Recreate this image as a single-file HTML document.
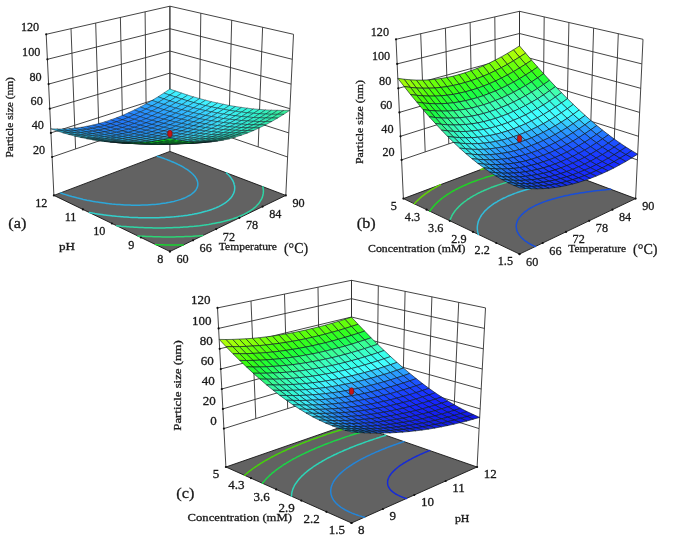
<!DOCTYPE html>
<html><head><meta charset="utf-8"><title>Response surface plots</title>
<style>
html,body{margin:0;padding:0;background:#fff;}
body{width:685px;height:544px;overflow:hidden;}
svg{display:block;}
text{font-family:"Liberation Serif","Times New Roman",serif;fill:#1a1a1a;stroke:#1a1a1a;stroke-width:0.3px;}
</style></head><body>
<svg width="685" height="544" viewBox="0 0 685 544">
<rect width="685" height="544" fill="#fff"/>
<polygon points="169.9,251.5 285.8,195.4 169.9,151.4 53.9,195.4" fill="#626262" stroke="#151515" stroke-width="0.9"/>
<polyline points="157.2,156.2 158.8,156.7 160.3,157.2 161.9,157.8 163.4,158.3 164.9,158.9 166.4,159.4 167.9,160.0 169.3,160.5 170.7,161.1 172.1,161.7 173.5,162.3 174.9,162.9 176.2,163.5 177.5,164.1 178.8,164.8 180.1,165.4 180.5,165.6 181.3,166.0 182.5,166.7 183.7,167.4 184.8,168.1 186.0,168.8 186.5,169.1 187.0,169.5 188.1,170.2 189.1,171.0 190.0,171.7 190.1,171.7 191.0,172.5 191.9,173.3 192.4,173.8 192.8,174.1 193.6,175.0 194.2,175.7 194.4,175.8 195.1,176.7 195.5,177.4 195.7,177.7 196.3,178.6 196.5,178.9 196.8,179.6 197.1,180.4 197.2,180.6 197.5,181.7 197.6,181.8 197.7,182.8 197.8,183.1 197.8,183.9 197.8,184.3 197.8,185.2 197.7,185.5 197.5,186.5 197.5,186.6 197.1,187.6 197.0,187.9 196.6,188.7 196.1,189.5 196.1,189.7 195.4,190.6 194.7,191.4 194.6,191.5 193.7,192.4 192.7,193.2 191.9,193.8 191.7,194.0 190.6,194.8 189.4,195.5 188.1,196.2 186.8,196.9 185.4,197.6 183.9,198.2 182.4,198.8 180.8,199.4 179.1,199.9 177.4,200.4 175.8,200.8 175.6,200.9 173.8,201.4 171.9,201.8 169.9,202.2 169.6,202.3 167.9,202.6 165.9,203.0 164.7,203.2 163.8,203.3 161.6,203.6 160.3,203.8 159.4,203.9 157.1,204.2 156.4,204.3 154.7,204.4 152.6,204.6 152.4,204.6 149.9,204.8 149.1,204.8 147.4,204.9 145.7,205.0 144.8,205.1 142.5,205.1 142.2,205.1 139.5,205.2 139.3,205.2 136.7,205.2 136.3,205.2 133.9,205.2 133.3,205.2 131.0,205.2 130.4,205.1 128.1,205.1 127.6,205.1 125.0,204.9 124.9,204.9 122.2,204.8 121.9,204.8 119.5,204.6 118.6,204.6 116.9,204.4 115.3,204.3 114.4,204.2 111.9,204.0 111.9,204.0 109.4,203.7 108.3,203.6 107.0,203.4 104.6,203.1 104.6,203.1 102.3,202.8 100.8,202.6 100.0,202.5 97.7,202.1 96.8,202.0 95.5,201.8 93.3,201.4 92.5,201.3 91.1,201.0 89.0,200.6 88.0,200.4 86.9,200.2 84.8,199.7 83.2,199.4 82.8,199.3 80.8,198.8 78.8,198.3 77.8,198.1 76.8,197.8 74.9,197.3 73.0,196.8 71.8,196.5 71.1,196.3 69.3,195.8 67.5,195.2 65.7,194.6 64.5,194.3 63.9,194.1 62.2,193.5 60.5,192.9" fill="none" stroke="#2da7d9" stroke-width="1.5" stroke-linecap="round"/>
<polyline points="226.4,172.9 227.2,173.7 228.1,174.5 228.4,174.8 228.9,175.3 229.6,176.2 230.0,176.6 230.3,177.0 231.0,177.9 231.3,178.3 231.6,178.8 232.2,179.8 232.3,179.8 232.8,180.7 233.1,181.3 233.3,181.7 233.7,182.7 233.7,182.8 234.0,183.8 234.1,184.2 234.3,184.9 234.5,185.5 234.5,186.0 234.6,186.8 234.7,187.2 234.7,188.0 234.7,188.4 234.6,189.2 234.6,189.6 234.5,190.4 234.4,191.0 234.2,191.5 234.0,192.4 233.9,192.6 233.5,193.7 233.4,193.9 232.9,194.7 232.5,195.5 232.4,195.7 231.7,196.7 231.2,197.4 231.0,197.7 230.1,198.6 229.3,199.5 229.3,199.5 228.3,200.4 227.3,201.2 226.3,202.1 225.9,202.3 225.2,202.9 224.0,203.7 222.8,204.4 221.5,205.2 220.1,205.9 218.7,206.6 217.3,207.2 215.8,207.9 214.2,208.5 212.6,209.1 211.0,209.7 209.3,210.3 207.6,210.8 207.4,210.9 205.8,211.3 203.9,211.8 202.1,212.3 200.7,212.7 200.2,212.8 198.2,213.2 196.2,213.7 195.4,213.8 194.1,214.1 192.0,214.5 190.6,214.7 189.9,214.8 187.7,215.2 186.3,215.4 185.5,215.5 183.3,215.8 182.3,215.9 181.0,216.1 178.6,216.3 178.4,216.4 176.3,216.6 174.7,216.7 173.8,216.8 171.4,217.0 171.2,217.0 168.9,217.2 167.8,217.3 166.3,217.3 164.4,217.4 163.8,217.5 161.2,217.6 161.1,217.6 158.5,217.7 158.0,217.7 155.8,217.8 154.9,217.8 153.0,217.8 151.9,217.8 150.2,217.8 148.9,217.8 147.4,217.8 145.9,217.8 144.5,217.8 143.1,217.8 141.5,217.8 140.2,217.7 138.6,217.7 137.4,217.6 135.5,217.6 134.7,217.5 132.4,217.4 131.9,217.4 129.3,217.3 129.3,217.3 126.6,217.1 126.1,217.1 124.0,216.9 122.8,216.8 121.4,216.7 119.4,216.5 118.9,216.5 116.4,216.3 116.0,216.2 113.9,216.0 112.5,215.9 111.4,215.7 109.0,215.5 108.9,215.5 106.6,215.2 105.2,215.0 104.2,214.9 101.9,214.5 101.4,214.5 99.6,214.2 97.5,213.9 97.3,213.9 95.0,213.5 93.5,213.2 92.8,213.1 90.6,212.7 89.3,212.5" fill="none" stroke="#32d0cb" stroke-width="1.5" stroke-linecap="round"/>
<polyline points="262.9,186.7 263.0,187.6 263.1,188.0 263.2,188.8 263.3,189.3 263.3,189.9 263.4,190.6 263.4,191.2 263.4,191.8 263.3,192.4 263.3,193.0 263.2,193.7 263.1,194.2 262.9,195.1 262.9,195.3 262.5,196.5 262.5,196.5 262.2,197.6 261.9,198.1 261.7,198.6 261.2,199.7 261.2,199.7 260.6,200.7 260.1,201.4 260.0,201.7 259.3,202.7 258.7,203.4 258.5,203.7 257.7,204.6 256.8,205.6 256.8,205.6 255.9,206.5 254.9,207.4 253.9,208.2 253.6,208.4 252.8,209.1 251.6,209.9 250.4,210.7 249.2,211.5 247.9,212.2 246.6,213.0 245.2,213.7 243.8,214.4 242.3,215.1 240.8,215.8 239.2,216.4 237.6,217.1 236.0,217.7 234.3,218.3 232.5,218.9 230.8,219.4 230.6,219.5 229.0,220.0 227.1,220.5 225.2,221.0 224.1,221.3 223.3,221.5 221.3,221.9 219.3,222.4 218.8,222.5 217.2,222.8 215.1,223.2 214.0,223.5 213.0,223.6 210.9,224.0 209.6,224.2 208.7,224.4 206.4,224.7 205.5,224.9 204.2,225.1 201.9,225.4 201.5,225.4 199.5,225.7 197.8,225.9 197.2,225.9 194.8,226.2 194.1,226.3 192.3,226.4 190.6,226.6 189.9,226.6 187.4,226.9 187.1,226.9 184.8,227.0 183.7,227.1 182.3,227.2 180.4,227.3 179.7,227.4 177.2,227.5 177.0,227.5 174.4,227.6 174.0,227.6 171.7,227.7 170.9,227.7 168.9,227.8 167.8,227.8 166.2,227.8 164.8,227.9 163.4,227.9 161.8,227.9 160.5,227.9 158.9,227.9 157.7,227.9 156.0,227.9 154.8,227.9 153.1,227.9 151.8,227.8 150.2,227.8 148.8,227.8 147.4,227.7 145.8,227.7 144.7,227.7 142.8,227.6 141.9,227.6 139.7,227.5 139.2,227.4 136.6,227.3 136.5,227.3 133.8,227.2 133.4,227.1 131.2,227.0 130.1,226.9 128.6,226.8 126.9,226.7 126.0,226.6 123.5,226.4 123.4,226.4 120.9,226.2 120.2,226.1 118.4,226.0 116.7,225.8" fill="none" stroke="#2ed5a4" stroke-width="1.5" stroke-linecap="round"/>
<polyline points="202.7,235.6 201.0,235.7 199.4,235.8 198.4,235.9 196.1,236.1 195.8,236.1 193.2,236.2 192.9,236.3 190.5,236.4 189.7,236.4 187.8,236.5 186.6,236.5 185.1,236.6 183.5,236.7 182.3,236.7 180.5,236.7 179.6,236.8 177.5,236.8 176.8,236.8 174.5,236.9 173.9,236.9 171.5,236.9 171.1,236.9 168.6,236.9 168.2,236.9 165.7,236.9 165.3,236.9 162.8,236.9 162.4,236.9 160.0,236.8 159.4,236.8 157.2,236.8 156.4,236.8 154.4,236.7 153.4,236.7 151.6,236.6 150.3,236.6 148.9,236.5 147.2,236.5 146.2,236.4 144.1,236.3 143.5,236.3 141.0,236.2 140.8,236.2 138.1,236.0 137.8,236.0" fill="none" stroke="#2cd575" stroke-width="1.5" stroke-linecap="round"/>
<polyline points="183.4,245.0 182.4,245.0 180.5,245.0 179.5,245.0 177.6,245.0 176.6,245.0 174.7,245.0 173.7,245.0 171.9,245.0 170.7,245.0 169.0,244.9 167.7,244.9 166.2,244.9 164.7,244.9 163.4,244.8 161.7,244.8 160.7,244.8 158.7,244.7 157.9,244.7 155.6,244.6" fill="none" stroke="#18d330" stroke-width="1.5" stroke-linecap="round"/>
<path d="M46.2,34.3L52.1,157.0 M71.0,28.7L75.6,148.9 M95.7,23.1L99.2,140.8 M120.4,17.4L122.7,132.7 M145.1,11.8L146.3,124.7 M169.9,6.2L169.9,116.6 M293.5,34.3L287.6,157.0 M262.6,27.3L258.2,146.9 M231.7,20.2L228.7,136.8 M200.8,13.2L199.3,126.7 M169.9,6.2L169.9,116.6 M52.1,157.0L169.9,116.6 M169.9,116.6L287.6,157.0 M50.9,132.9L169.9,94.9 M169.9,94.9L288.8,132.9 M49.8,108.7L169.9,73.1 M169.9,73.1L289.9,108.7 M48.6,84.1L169.9,51.0 M169.9,51.0L291.1,84.1 M47.4,59.3L169.9,28.7 M169.9,28.7L292.3,59.3 M46.2,34.3L169.9,6.2 M169.9,6.2L293.5,34.3 M52.1,157.0L53.9,195.4 M287.6,157.0L285.8,195.4 M169.9,116.6L169.9,151.4" fill="none" stroke="#303030" stroke-width="0.9"/>
<g stroke="#0c1820" stroke-width="0.45" stroke-linejoin="round">
<path d="M169.9 95.1L175.8 91.1L169.9 89.0L163.9 93.0z" fill="#41f3ff"/>
<path d="M163.9 98.9L169.9 95.1L163.9 93.0L158.0 96.8z" fill="#3adaff"/>
<path d="M175.8 97.1L181.8 93.1L175.8 91.1L169.9 95.1z" fill="#40f0ff"/>
<path d="M158.0 102.5L163.9 98.9L158.0 96.8L152.0 100.4z" fill="#34c4ff"/>
<path d="M181.8 99.0L187.7 95.1L181.8 93.1L175.8 97.1z" fill="#40eeff"/>
<path d="M169.9 100.9L175.8 97.1L169.9 95.1L163.9 98.9z" fill="#3ad8ff"/>
<path d="M152.0 105.9L158.0 102.5L152.0 100.4L146.1 103.8z" fill="#30b1ff"/>
<path d="M163.9 104.4L169.9 100.9L163.9 98.9L158.0 102.5z" fill="#34c2ff"/>
<path d="M175.8 102.7L181.8 99.0L175.8 97.1L169.9 100.9z" fill="#39d7ff"/>
<path d="M187.7 100.8L193.7 96.9L187.7 95.1L181.8 99.0z" fill="#3fedff"/>
<path d="M169.9 106.3L175.8 102.7L169.9 100.9L163.9 104.4z" fill="#34c2ff"/>
<path d="M146.1 109.1L152.0 105.9L146.1 103.8L140.2 107.0z" fill="#2ca1ff"/>
<path d="M158.0 107.8L163.9 104.4L158.0 102.5L152.0 105.9z" fill="#2fb0ff"/>
<path d="M181.8 104.5L187.7 100.8L181.8 99.0L175.8 102.7z" fill="#39d6ff"/>
<path d="M193.7 102.5L199.7 98.6L193.7 96.9L187.7 100.8z" fill="#40eeff"/>
<path d="M140.2 112.0L146.1 109.1L140.2 107.0L134.2 110.0z" fill="#2994ff"/>
<path d="M163.9 109.7L169.9 106.3L163.9 104.4L158.0 107.8z" fill="#2fb0ff"/>
<path d="M175.8 108.1L181.8 104.5L175.8 102.7L169.9 106.3z" fill="#34c2ff"/>
<path d="M199.6 104.1L205.6 100.2L199.7 98.6L193.7 102.5z" fill="#40efff"/>
<path d="M152.0 111.0L158.0 107.8L152.0 105.9L146.1 109.1z" fill="#2ca1ff"/>
<path d="M187.7 106.2L193.7 102.5L187.7 100.8L181.8 104.5z" fill="#3ad7ff"/>
<path d="M134.2 114.8L140.2 112.0L134.2 110.0L128.3 112.8z" fill="#2789ff"/>
<path d="M146.1 114.0L152.0 111.0L146.1 109.1L140.2 112.0z" fill="#2994ff"/>
<path d="M158.0 112.8L163.9 109.7L158.0 107.8L152.0 111.0z" fill="#2ca1ff"/>
<path d="M169.9 111.4L175.8 108.1L169.9 106.3L163.9 109.7z" fill="#2fb1ff"/>
<path d="M181.8 109.7L187.7 106.2L181.8 104.5L175.8 108.1z" fill="#34c4ff"/>
<path d="M193.7 107.8L199.6 104.1L193.7 102.5L187.7 106.2z" fill="#3adaff"/>
<path d="M205.6 105.6L211.6 101.7L205.6 100.2L199.6 104.1z" fill="#41f2ff"/>
<path d="M128.3 117.4L134.2 114.8L128.3 112.8L122.4 115.4z" fill="#2581fd"/>
<path d="M152.0 115.8L158.0 112.8L152.0 111.0L146.1 114.0z" fill="#2995fe"/>
<path d="M187.7 111.3L193.7 107.8L187.7 106.2L181.8 109.7z" fill="#35c6ff"/>
<path d="M211.6 106.9L217.6 103.0L211.6 101.7L205.6 105.6z" fill="#40f4ff"/>
<path d="M140.2 116.7L146.1 114.0L140.2 112.0L134.2 114.8z" fill="#278afe"/>
<path d="M163.9 114.6L169.9 111.4L163.9 109.7L158.0 112.8z" fill="#2ca3ff"/>
<path d="M175.8 113.1L181.8 109.7L175.8 108.1L169.9 111.4z" fill="#30b3ff"/>
<path d="M199.6 109.3L205.6 105.6L199.6 104.1L193.7 107.8z" fill="#3bddff"/>
<path d="M122.4 119.8L128.3 117.4L122.4 115.4L116.5 117.8z" fill="#237afa"/>
<path d="M134.3 119.3L140.2 116.7L134.2 114.8L128.3 117.4z" fill="#2582fb"/>
<path d="M146.1 118.6L152.0 115.8L146.1 114.0L140.2 116.7z" fill="#278bfc"/>
<path d="M158.0 117.5L163.9 114.6L158.0 112.8L152.0 115.8z" fill="#2a97fd"/>
<path d="M181.7 114.6L187.7 111.3L181.8 109.7L175.8 113.1z" fill="#31b6ff"/>
<path d="M193.7 112.8L199.6 109.3L193.7 107.8L187.7 111.3z" fill="#36caff"/>
<path d="M205.6 110.6L211.6 106.9L205.6 105.6L199.6 109.3z" fill="#3ce1ff"/>
<path d="M217.5 108.2L223.5 104.3L217.6 103.0L211.6 106.9z" fill="#3ff3fd"/>
<path d="M169.9 116.2L175.8 113.1L169.9 111.4L163.9 114.6z" fill="#2da5fe"/>
<path d="M140.2 121.1L146.1 118.6L140.2 116.7L134.3 119.3z" fill="#2583fa"/>
<path d="M199.6 114.1L205.6 110.6L199.6 109.3L193.7 112.8z" fill="#37cfff"/>
<path d="M116.5 121.9L122.4 119.8L116.5 117.8L110.5 119.9z" fill="#2276f8"/>
<path d="M128.3 121.7L134.3 119.3L128.3 117.4L122.4 119.8z" fill="#237cf9"/>
<path d="M152.0 120.3L158.0 117.5L152.0 115.8L146.1 118.6z" fill="#278efb"/>
<path d="M163.9 119.2L169.9 116.2L163.9 114.6L158.0 117.5z" fill="#2a9afc"/>
<path d="M175.8 117.8L181.7 114.6L175.8 113.1L169.9 116.2z" fill="#2da8fc"/>
<path d="M187.7 116.1L193.7 112.8L187.7 111.3L181.7 114.6z" fill="#32bafd"/>
<path d="M211.6 111.9L217.5 108.2L211.6 106.9L205.6 110.6z" fill="#3ee6ff"/>
<path d="M223.5 109.3L229.5 105.5L223.5 104.3L217.5 108.2z" fill="#3df3f7"/>
<path d="M134.3 123.5L140.2 121.1L134.3 119.3L128.3 121.7z" fill="#247ef7"/>
<path d="M146.1 122.8L152.0 120.3L146.1 118.6L140.2 121.1z" fill="#2686f8"/>
<path d="M169.9 120.7L175.8 117.8L169.9 116.2L163.9 119.2z" fill="#2b9dfa"/>
<path d="M193.7 117.4L199.6 114.1L193.7 112.8L187.7 116.1z" fill="#33bffc"/>
<path d="M205.6 115.4L211.6 111.9L205.6 110.6L199.6 114.1z" fill="#39d4fe"/>
<path d="M110.5 123.9L116.5 121.9L110.5 119.9L104.6 121.9z" fill="#2274f5"/>
<path d="M229.5 110.4L235.5 106.5L229.5 105.5L223.5 109.3z" fill="#3bf3f0"/>
<path d="M122.4 123.8L128.3 121.7L122.4 119.8L116.5 121.9z" fill="#2278f6"/>
<path d="M158.0 121.9L163.9 119.2L158.0 117.5L152.0 120.3z" fill="#2891f9"/>
<path d="M181.7 119.2L187.7 116.1L181.7 114.6L175.8 117.8z" fill="#2eacfb"/>
<path d="M217.5 113.0L223.5 109.3L217.5 108.2L211.6 111.9z" fill="#3fedff"/>
<path d="M104.6 125.6L110.5 123.9L104.6 121.9L98.7 123.6z" fill="#2174f3"/>
<path d="M128.3 125.6L134.3 123.5L128.3 121.7L122.4 123.8z" fill="#237af5"/>
<path d="M140.2 125.2L146.1 122.8L140.2 121.1L134.3 123.5z" fill="#2481f6"/>
<path d="M152.0 124.4L158.0 121.9L152.0 120.3L146.1 122.8z" fill="#268af7"/>
<path d="M163.9 123.4L169.9 120.7L163.9 119.2L158.0 121.9z" fill="#2995f8"/>
<path d="M175.8 122.1L181.7 119.2L175.8 117.8L169.9 120.7z" fill="#2ca2f9"/>
<path d="M187.7 120.5L193.7 117.4L187.7 116.1L181.7 119.2z" fill="#30b2fa"/>
<path d="M199.6 118.7L205.6 115.4L199.6 114.1L193.7 117.4z" fill="#35c5fb"/>
<path d="M211.5 116.5L217.5 113.0L211.6 111.9L205.6 115.4z" fill="#3bdbfc"/>
<path d="M235.5 111.3L241.5 107.4L235.5 106.5L229.5 110.4z" fill="#39f3e9"/>
<path d="M116.5 125.7L122.4 123.8L116.5 121.9L110.5 123.9z" fill="#2276f4"/>
<path d="M223.5 114.1L229.5 110.4L223.5 109.3L217.5 113.0z" fill="#3eeef9"/>
<path d="M158.0 125.9L163.9 123.4L158.0 121.9L152.0 124.4z" fill="#278ef5"/>
<path d="M181.7 123.4L187.7 120.5L181.7 119.2L175.8 122.1z" fill="#2da7f7"/>
<path d="M98.7 127.1L104.6 125.6L98.7 123.6L92.7 125.1z" fill="#2276f0"/>
<path d="M122.4 127.5L128.3 125.6L122.4 123.8L116.5 125.7z" fill="#2279f2"/>
<path d="M217.5 117.5L223.5 114.1L217.5 113.0L211.5 116.5z" fill="#3de3fb"/>
<path d="M241.5 112.1L247.5 108.2L241.5 107.4L235.5 111.3z" fill="#36f4e1"/>
<path d="M110.5 127.4L116.5 125.7L110.5 123.9L104.6 125.6z" fill="#2276f1"/>
<path d="M134.2 127.3L140.2 125.2L134.3 123.5L128.3 125.6z" fill="#247ef3"/>
<path d="M146.1 126.7L152.0 124.4L146.1 122.8L140.2 125.2z" fill="#2585f4"/>
<path d="M169.9 124.8L175.8 122.1L169.9 120.7L163.9 123.4z" fill="#2a9af6"/>
<path d="M193.7 121.8L199.6 118.7L193.7 117.4L187.7 120.5z" fill="#31b8f8"/>
<path d="M205.6 119.8L211.5 116.5L205.6 115.4L199.6 118.7z" fill="#37ccfa"/>
<path d="M229.5 115.0L235.5 111.3L229.5 110.4L223.5 114.1z" fill="#3ceff2"/>
<path d="M92.7 128.3L98.7 127.1L92.7 125.1L86.8 126.3z" fill="#2279ed"/>
<path d="M116.4 129.2L122.4 127.5L116.5 125.7L110.5 127.4z" fill="#2279f0"/>
<path d="M152.0 128.2L158.0 125.9L152.0 124.4L146.1 126.7z" fill="#2689f3"/>
<path d="M163.9 127.3L169.9 124.8L163.9 123.4L158.0 125.9z" fill="#2893f4"/>
<path d="M175.8 126.1L181.7 123.4L175.8 122.1L169.9 124.8z" fill="#2b9ff5"/>
<path d="M187.7 124.6L193.7 121.8L187.7 120.5L181.7 123.4z" fill="#2eaef6"/>
<path d="M223.5 118.5L229.5 115.0L223.5 114.1L217.5 117.5z" fill="#3eeaf9"/>
<path d="M247.5 112.8L253.5 108.9L247.5 108.2L241.5 112.1z" fill="#34f4d8"/>
<path d="M104.6 128.9L110.5 127.4L104.6 125.6L98.7 127.1z" fill="#2278ee"/>
<path d="M128.3 129.2L134.2 127.3L128.3 125.6L122.4 127.5z" fill="#237cf1"/>
<path d="M211.5 120.8L217.5 117.5L211.5 116.5L205.6 119.8z" fill="#39d4f9"/>
<path d="M235.5 115.8L241.5 112.1L235.5 111.3L229.5 115.0z" fill="#39efea"/>
<path d="M140.2 128.8L146.1 126.7L140.2 125.2L134.2 127.3z" fill="#2482f2"/>
<path d="M199.6 122.9L205.6 119.8L199.6 118.7L193.7 121.8z" fill="#33c0f7"/>
<path d="M169.9 128.6L175.8 126.1L169.9 124.8L163.9 127.3z" fill="#2a99f2"/>
<path d="M110.5 130.7L116.4 129.2L110.5 127.4L104.6 128.9z" fill="#237bed"/>
<path d="M229.5 119.3L235.5 115.8L229.5 115.0L223.5 118.5z" fill="#3cebf1"/>
<path d="M86.7 129.3L92.7 128.3L86.8 126.3L80.8 127.4z" fill="#247feb"/>
<path d="M98.6 130.2L104.6 128.9L98.7 127.1L92.7 128.3z" fill="#237cec"/>
<path d="M122.4 130.9L128.3 129.2L122.4 127.5L116.4 129.2z" fill="#237dee"/>
<path d="M146.1 130.3L152.0 128.2L146.1 126.7L140.2 128.8z" fill="#2687f0"/>
<path d="M158.0 129.6L163.9 127.3L158.0 125.9L152.0 128.2z" fill="#278ff1"/>
<path d="M181.7 127.3L187.7 124.6L181.7 123.4L175.8 126.1z" fill="#2da6f3"/>
<path d="M193.7 125.7L199.6 122.9L193.7 121.8L187.7 124.6z" fill="#30b5f4"/>
<path d="M217.5 121.7L223.5 118.5L217.5 117.5L211.5 120.8z" fill="#3bddf7"/>
<path d="M241.5 116.5L247.5 112.8L241.5 112.1L235.5 115.8z" fill="#37f0e1"/>
<path d="M253.5 113.3L259.6 109.4L253.5 108.9L247.5 112.8z" fill="#33f4cf"/>
<path d="M134.2 130.7L140.2 128.8L134.2 127.3L128.3 129.2z" fill="#2481ef"/>
<path d="M205.6 123.9L211.5 120.8L205.6 119.8L199.6 122.9z" fill="#35c8f6"/>
<path d="M104.5 131.9L110.5 130.7L104.6 128.9L98.6 130.2z" fill="#247fea"/>
<path d="M163.9 130.9L169.9 128.6L163.9 127.3L158.0 129.6z" fill="#2995f0"/>
<path d="M175.8 129.8L181.7 127.3L175.8 126.1L169.9 128.6z" fill="#2ba0f1"/>
<path d="M235.5 119.9L241.5 116.5L235.5 115.8L229.5 119.3z" fill="#39ebe8"/>
<path d="M80.8 130.1L86.7 129.3L80.8 127.4L74.8 128.1z" fill="#2586e8"/>
<path d="M116.4 132.3L122.4 130.9L116.4 129.2L110.5 130.7z" fill="#247feb"/>
<path d="M140.2 132.2L146.1 130.3L140.2 128.8L134.2 130.7z" fill="#2586ee"/>
<path d="M199.6 126.7L205.6 123.9L199.6 122.9L193.7 125.7z" fill="#33bef3"/>
<path d="M223.5 122.5L229.5 119.3L223.5 118.5L217.5 121.7z" fill="#3de6f6"/>
<path d="M259.6 113.8L265.6 109.9L259.6 109.4L253.5 113.3z" fill="#33f2c6"/>
<path d="M92.7 131.2L98.6 130.2L92.7 128.3L86.7 129.3z" fill="#2482e9"/>
<path d="M128.3 132.4L134.2 130.7L128.3 129.2L122.4 130.9z" fill="#2482ed"/>
<path d="M152.0 131.7L158.0 129.6L152.0 128.2L146.1 130.3z" fill="#278def"/>
<path d="M187.7 128.4L193.7 125.7L187.7 124.6L181.7 127.3z" fill="#2eadf2"/>
<path d="M211.5 124.8L217.5 121.7L211.5 120.8L205.6 123.9z" fill="#38d1f5"/>
<path d="M247.5 117.0L253.5 113.3L247.5 112.8L241.5 116.5z" fill="#34f0d7"/>
<path d="M74.8 130.7L80.8 130.1L74.8 128.1L68.8 128.7z" fill="#278fe5"/>
<path d="M98.6 132.9L104.5 131.9L98.6 130.2L92.7 131.2z" fill="#2585e7"/>
<path d="M110.5 133.5L116.4 132.3L110.5 130.7L104.5 131.9z" fill="#2583e9"/>
<path d="M134.2 133.8L140.2 132.2L134.2 130.7L128.3 132.4z" fill="#2587eb"/>
<path d="M158.0 132.9L163.9 130.9L158.0 129.6L152.0 131.7z" fill="#2893ed"/>
<path d="M169.9 132.0L175.8 129.8L169.9 128.6L163.9 130.9z" fill="#2a9cee"/>
<path d="M181.8 130.9L187.7 128.4L181.7 127.3L175.8 129.8z" fill="#2da8ef"/>
<path d="M205.6 127.6L211.5 124.8L205.6 123.9L199.6 126.7z" fill="#35c8f2"/>
<path d="M229.5 123.2L235.5 119.9L229.5 119.3L223.5 122.5z" fill="#3be7ed"/>
<path d="M241.5 120.5L247.5 117.0L241.5 116.5L235.5 119.9z" fill="#36ecde"/>
<path d="M265.6 114.1L271.6 110.2L265.6 109.9L259.6 113.8z" fill="#34f1bb"/>
<path d="M86.7 132.0L92.7 131.2L86.7 129.3L80.8 130.1z" fill="#2689e6"/>
<path d="M122.3 133.8L128.3 132.4L122.4 130.9L116.4 132.3z" fill="#2584ea"/>
<path d="M146.1 133.5L152.0 131.7L146.1 130.3L140.2 132.2z" fill="#278cec"/>
<path d="M193.7 129.4L199.6 126.7L193.7 125.7L187.7 128.4z" fill="#31b6f1"/>
<path d="M217.5 125.6L223.5 122.5L217.5 121.7L211.5 124.8z" fill="#3bdbf4"/>
<path d="M253.5 117.5L259.6 113.8L253.5 113.3L247.5 117.0z" fill="#32f0ce"/>
<path d="M92.6 133.7L98.6 132.9L92.7 131.2L86.7 132.0z" fill="#268de5"/>
<path d="M128.3 135.3L134.2 133.8L128.3 132.4L122.3 133.8z" fill="#268ae8"/>
<path d="M152.0 134.8L158.0 132.9L152.0 131.7L146.1 133.5z" fill="#2893eb"/>
<path d="M187.7 131.8L193.7 129.4L187.7 128.4L181.8 130.9z" fill="#2fb1ee"/>
<path d="M211.6 128.4L217.5 125.6L211.5 124.8L205.6 127.6z" fill="#38d2f1"/>
<path d="M247.5 121.0L253.5 117.5L247.5 117.0L241.5 120.5z" fill="#33edd4"/>
<path d="M68.7 131.0L74.8 130.7L68.8 128.7L62.8 129.0z" fill="#299ae2"/>
<path d="M80.7 132.5L86.7 132.0L80.8 130.1L74.8 130.7z" fill="#2892e3"/>
<path d="M104.5 134.6L110.5 133.5L104.5 131.9L98.6 132.9z" fill="#2689e6"/>
<path d="M116.4 135.1L122.3 133.8L116.4 132.3L110.5 133.5z" fill="#2689e7"/>
<path d="M140.1 135.2L146.1 133.5L140.2 132.2L134.2 133.8z" fill="#278de9"/>
<path d="M163.9 134.1L169.9 132.0L163.9 130.9L158.0 132.9z" fill="#2a9aec"/>
<path d="M175.8 133.1L181.8 130.9L175.8 129.8L169.9 132.0z" fill="#2ca4ed"/>
<path d="M199.6 130.3L205.6 127.6L199.6 126.7L193.7 129.4z" fill="#33c0ef"/>
<path d="M223.5 126.2L229.5 123.2L223.5 122.5L217.5 125.6z" fill="#3ce3f0"/>
<path d="M235.5 123.8L241.5 120.5L235.5 119.9L229.5 123.2z" fill="#38e8e3"/>
<path d="M259.6 117.8L265.6 114.1L259.6 113.8L253.5 117.5z" fill="#33efc3"/>
<path d="M271.6 114.3L277.7 110.3L271.6 110.2L265.6 114.1z" fill="#35efb0"/>
<path d="M86.6 134.2L92.6 133.7L86.7 132.0L80.7 132.5z" fill="#2896e2"/>
<path d="M122.3 136.5L128.3 135.3L122.3 133.8L116.4 135.1z" fill="#278ee6"/>
<path d="M146.1 136.4L152.0 134.8L146.1 133.5L140.1 135.2z" fill="#2894e8"/>
<path d="M193.7 132.7L199.6 130.3L193.7 129.4L187.7 131.8z" fill="#32bbed"/>
<path d="M217.5 129.1L223.5 126.2L217.5 125.6L211.6 128.4z" fill="#3bddf0"/>
<path d="M253.5 121.3L259.6 117.8L253.5 117.5L247.5 121.0z" fill="#31edc9"/>
<path d="M62.7 131.0L68.7 131.0L62.8 129.0L56.8 129.0z" fill="#2da8e0"/>
<path d="M98.5 135.3L104.5 134.6L98.6 132.9L92.6 133.7z" fill="#2791e3"/>
<path d="M134.2 136.6L140.1 135.2L134.2 133.8L128.3 135.3z" fill="#2790e7"/>
<path d="M158.0 135.9L163.9 134.1L158.0 132.9L152.0 134.8z" fill="#2a9ae9"/>
<path d="M181.8 134.0L187.7 131.8L181.8 130.9L175.8 133.1z" fill="#2eaeeb"/>
<path d="M205.6 131.0L211.6 128.4L205.6 127.6L199.6 130.3z" fill="#36cbee"/>
<path d="M241.5 124.2L247.5 121.0L241.5 120.5L235.5 123.8z" fill="#35e9d9"/>
<path d="M277.7 114.3L283.8 110.4L277.7 110.3L271.6 114.3z" fill="#35eea5"/>
<path d="M74.7 132.8L80.7 132.5L74.8 130.7L68.7 131.0z" fill="#2a9de1"/>
<path d="M110.4 136.1L116.4 135.1L110.5 133.5L104.5 134.6z" fill="#278fe4"/>
<path d="M169.9 135.1L175.8 133.1L169.9 132.0L163.9 134.1z" fill="#2ca2ea"/>
<path d="M229.5 126.8L235.5 123.8L229.5 123.2L223.5 126.2z" fill="#39e4e6"/>
<path d="M265.6 118.0L271.6 114.3L265.6 114.1L259.6 117.8z" fill="#33edb8"/>
<path d="M140.1 137.7L146.1 136.4L140.1 135.2L134.2 136.6z" fill="#2998e5"/>
<path d="M199.6 133.4L205.6 131.0L199.6 130.3L193.7 132.7z" fill="#35c6ec"/>
<path d="M56.7 130.8L62.7 131.0L56.8 129.0L50.7 128.8z" fill="#31b7dd"/>
<path d="M80.6 134.5L86.6 134.2L80.7 132.5L74.7 132.8z" fill="#2ba1df"/>
<path d="M92.5 135.8L98.5 135.3L92.6 133.7L86.6 134.2z" fill="#299ae0"/>
<path d="M116.3 137.4L122.3 136.5L116.4 135.1L110.4 136.1z" fill="#2895e3"/>
<path d="M128.2 137.7L134.2 136.6L128.3 135.3L122.3 136.5z" fill="#2895e4"/>
<path d="M152.0 137.4L158.0 135.9L152.0 134.8L146.1 136.4z" fill="#2a9ce6"/>
<path d="M187.7 134.8L193.7 132.7L187.7 131.8L181.8 134.0z" fill="#31b8ea"/>
<path d="M211.6 131.6L217.5 129.1L211.6 128.4L205.6 131.0z" fill="#39d6ed"/>
<path d="M223.5 129.6L229.5 126.8L223.5 126.2L217.5 129.1z" fill="#3ae1e8"/>
<path d="M247.5 124.5L253.5 121.3L247.5 121.0L241.5 124.2z" fill="#31eace"/>
<path d="M259.6 121.5L265.6 118.0L259.6 117.8L253.5 121.3z" fill="#32ebbe"/>
<path d="M283.8 114.3L289.9 110.3L283.8 110.4L277.7 114.3z" fill="#36ec99"/>
<path d="M68.6 132.9L74.7 132.8L68.7 131.0L62.7 131.0z" fill="#2eabde"/>
<path d="M104.4 136.8L110.4 136.1L104.5 134.6L98.5 135.3z" fill="#2996e2"/>
<path d="M163.9 136.9L169.9 135.1L163.9 134.1L158.0 135.9z" fill="#2ca3e7"/>
<path d="M175.8 136.0L181.8 134.0L175.8 133.1L169.9 135.1z" fill="#2eace9"/>
<path d="M235.5 127.2L241.5 124.2L235.5 123.8L229.5 126.8z" fill="#36e5dc"/>
<path d="M271.7 118.1L277.7 114.3L271.6 114.3L265.6 118.0z" fill="#34ecad"/>
<path d="M134.2 138.9L140.1 137.7L134.2 136.6L128.2 137.7z" fill="#2a9de2"/>
<path d="M205.6 134.0L211.6 131.6L205.6 131.0L199.6 133.4z" fill="#38d1ea"/>
<path d="M74.6 134.6L80.6 134.5L74.7 132.8L68.6 132.9z" fill="#2fafdd"/>
<path d="M110.4 138.2L116.3 137.4L110.4 136.1L104.4 136.8z" fill="#2a9de0"/>
<path d="M146.1 138.8L152.0 137.4L146.1 136.4L140.1 137.7z" fill="#2ba0e4"/>
<path d="M193.7 135.5L199.6 133.4L193.7 132.7L187.7 134.8z" fill="#34c3e9"/>
<path d="M229.5 130.0L235.5 127.2L229.5 126.8L223.5 129.6z" fill="#36e1dd"/>
<path d="M265.6 121.6L271.7 118.1L265.6 118.0L259.6 121.5z" fill="#33e9b3"/>
<path d="M62.6 132.7L68.6 132.9L62.7 131.0L56.7 130.8z" fill="#32badc"/>
<path d="M86.5 136.1L92.5 135.8L86.6 134.2L80.6 134.5z" fill="#2ca6de"/>
<path d="M98.5 137.3L104.4 136.8L98.5 135.3L92.5 135.8z" fill="#2ba0df"/>
<path d="M122.3 138.7L128.2 137.7L122.3 136.5L116.3 137.4z" fill="#2a9ce1"/>
<path d="M158.0 138.4L163.9 136.9L158.0 135.9L152.0 137.4z" fill="#2ca5e5"/>
<path d="M169.9 137.7L175.8 136.0L169.9 135.1L163.9 136.9z" fill="#2eade6"/>
<path d="M181.8 136.8L187.7 134.8L181.8 134.0L175.8 136.0z" fill="#31b7e8"/>
<path d="M217.6 132.2L223.5 129.6L217.5 129.1L211.6 131.6z" fill="#3adee8"/>
<path d="M241.5 127.5L247.5 124.5L241.5 124.2L235.5 127.2z" fill="#32e6d1"/>
<path d="M253.6 124.7L259.6 121.5L253.5 121.3L247.5 124.5z" fill="#31e9c3"/>
<path d="M277.7 118.0L283.8 114.3L277.7 114.3L271.7 118.1z" fill="#35eaa0"/>
<path d="M68.5 134.4L74.6 134.6L68.6 132.9L62.6 132.7z" fill="#33bedb"/>
<path d="M104.4 138.6L110.4 138.2L104.4 136.8L98.5 137.3z" fill="#2da7de"/>
<path d="M128.2 139.8L134.2 138.9L128.2 137.7L122.3 138.7z" fill="#2ca4e0"/>
<path d="M140.1 139.9L146.1 138.8L140.1 137.7L134.2 138.9z" fill="#2ca6e1"/>
<path d="M199.7 136.1L205.6 134.0L199.6 133.4L193.7 135.5z" fill="#37cfe8"/>
<path d="M211.6 134.5L217.6 132.2L211.6 131.6L205.6 134.0z" fill="#3adbe7"/>
<path d="M235.5 130.3L241.5 127.5L235.5 127.2L229.5 130.0z" fill="#33e2d2"/>
<path d="M271.7 121.5L277.7 118.0L271.7 118.1L265.6 121.6z" fill="#33e8a7"/>
<path d="M80.5 136.2L86.5 136.1L80.6 134.5L74.6 134.6z" fill="#30b4dc"/>
<path d="M116.3 139.4L122.3 138.7L116.3 137.4L110.4 138.2z" fill="#2ca4df"/>
<path d="M152.0 139.7L158.0 138.4L152.0 137.4L146.1 138.8z" fill="#2daae2"/>
<path d="M163.9 139.3L169.9 137.7L163.9 136.9L158.0 138.4z" fill="#2fb0e4"/>
<path d="M175.8 138.5L181.8 136.8L175.8 136.0L169.9 137.7z" fill="#31b8e5"/>
<path d="M187.7 137.5L193.7 135.5L187.7 134.8L181.8 136.8z" fill="#34c2e6"/>
<path d="M223.6 132.6L229.5 130.0L223.5 129.6L217.6 132.2z" fill="#37dedd"/>
<path d="M259.6 124.8L265.6 121.6L259.6 121.5L253.6 124.7z" fill="#32e7b7"/>
<path d="M92.4 137.6L98.5 137.3L92.5 135.8L86.5 136.1z" fill="#2eacdd"/>
<path d="M247.6 127.7L253.6 124.7L247.5 124.5L241.5 127.5z" fill="#30e6c6"/>
<path d="M122.2 140.5L128.2 139.8L122.3 138.7L116.3 139.4z" fill="#2eadde"/>
<path d="M217.6 134.9L223.6 132.6L217.6 132.2L211.6 134.5z" fill="#36dcdc"/>
<path d="M74.5 136.0L80.5 136.2L74.6 134.6L68.5 134.4z" fill="#34c3d9"/>
<path d="M98.4 138.9L104.4 138.6L98.5 137.3L92.4 137.6z" fill="#30b3db"/>
<path d="M110.3 139.8L116.3 139.4L110.4 138.2L104.4 138.6z" fill="#2fafdc"/>
<path d="M134.1 140.8L140.1 139.9L134.2 138.9L128.2 139.8z" fill="#2eaddf"/>
<path d="M146.0 140.8L152.0 139.7L146.1 138.8L140.1 139.9z" fill="#2fb0e0"/>
<path d="M157.9 140.5L163.9 139.3L158.0 138.4L152.0 139.7z" fill="#30b4e1"/>
<path d="M169.9 140.0L175.8 138.5L169.9 137.7L163.9 139.3z" fill="#32bbe3"/>
<path d="M181.8 139.1L187.7 137.5L181.8 136.8L175.8 138.5z" fill="#34c4e4"/>
<path d="M193.7 138.0L199.7 136.1L193.7 135.5L187.7 137.5z" fill="#37cfe5"/>
<path d="M205.6 136.6L211.6 134.5L205.6 134.0L199.7 136.1z" fill="#39d8e4"/>
<path d="M229.6 132.8L235.5 130.3L229.5 130.0L223.6 132.6z" fill="#33dfd2"/>
<path d="M241.6 130.5L247.6 127.7L241.5 127.5L235.5 130.3z" fill="#2fe4c7"/>
<path d="M265.7 124.8L271.7 121.5L265.6 121.6L259.6 124.8z" fill="#32e6ab"/>
<path d="M86.4 137.6L92.4 137.6L86.5 136.1L80.5 136.2z" fill="#32bada"/>
<path d="M253.6 127.8L259.6 124.8L253.6 124.7L247.6 127.7z" fill="#31e5ba"/>
<path d="M116.2 140.9L122.2 140.5L116.3 139.4L110.3 139.8z" fill="#31b8db"/>
<path d="M223.6 135.1L229.6 132.8L223.6 132.6L217.6 134.9z" fill="#33ddd1"/>
<path d="M92.4 138.9L98.4 138.9L92.4 137.6L86.4 137.6z" fill="#34c1d9"/>
<path d="M128.2 141.4L134.1 140.8L128.2 139.8L122.2 140.5z" fill="#31b7dc"/>
<path d="M152.0 141.6L157.9 140.5L152.0 139.7L146.0 140.8z" fill="#32bbdf"/>
<path d="M163.9 141.2L169.9 140.0L163.9 139.3L157.9 140.5z" fill="#33c0e0"/>
<path d="M175.8 140.6L181.8 139.1L175.8 138.5L169.9 140.0z" fill="#35c7e1"/>
<path d="M187.7 139.6L193.7 138.0L187.7 137.5L181.8 139.1z" fill="#38d0e3"/>
<path d="M211.6 136.9L217.6 134.9L211.6 134.5L205.6 136.6z" fill="#36d9d9"/>
<path d="M247.6 130.5L253.6 127.8L247.6 127.7L241.6 130.5z" fill="#30e2bb"/>
<path d="M80.4 137.4L86.4 137.6L80.5 136.2L74.5 136.0z" fill="#36c9d8"/>
<path d="M104.3 140.1L110.3 139.8L104.4 138.6L98.4 138.9z" fill="#32bbda"/>
<path d="M140.1 141.6L146.0 140.8L140.1 139.9L134.1 140.8z" fill="#31b8de"/>
<path d="M199.7 138.4L205.6 136.6L199.7 136.1L193.7 138.0z" fill="#38d6e0"/>
<path d="M235.6 133.0L241.6 130.5L235.5 130.3L229.6 132.8z" fill="#30e1c7"/>
<path d="M259.6 127.7L265.7 124.8L259.6 124.8L253.6 127.8z" fill="#31e3ae"/>
<path d="M86.3 138.6L92.4 138.9L86.4 137.6L80.4 137.4z" fill="#34cad2"/>
<path d="M110.2 141.1L116.2 140.9L110.3 139.8L104.3 140.1z" fill="#35c5d9"/>
<path d="M122.2 141.8L128.2 141.4L122.2 140.5L116.2 140.9z" fill="#34c2da"/>
<path d="M157.9 142.2L163.9 141.2L157.9 140.5L152.0 141.6z" fill="#35c6de"/>
<path d="M169.9 141.8L175.8 140.6L169.9 140.0L163.9 141.2z" fill="#37ccdf"/>
<path d="M181.8 141.0L187.7 139.6L181.8 139.1L175.8 140.6z" fill="#38d2df"/>
<path d="M217.6 137.1L223.6 135.1L217.6 134.9L211.6 136.9z" fill="#32dace"/>
<path d="M229.6 135.2L235.6 133.0L229.6 132.8L223.6 135.1z" fill="#2fdec5"/>
<path d="M253.7 130.5L259.6 127.7L253.6 127.8L247.6 130.5z" fill="#30e1af"/>
<path d="M98.3 140.0L104.3 140.1L98.4 138.9L92.4 138.9z" fill="#36c9d8"/>
<path d="M134.1 142.2L140.1 141.6L134.1 140.8L128.2 141.4z" fill="#34c1db"/>
<path d="M146.0 142.4L152.0 141.6L146.0 140.8L140.1 141.6z" fill="#34c3dc"/>
<path d="M193.7 140.0L199.7 138.4L193.7 138.0L187.7 139.6z" fill="#36d5db"/>
<path d="M205.7 138.7L211.6 136.9L205.6 136.6L199.7 138.4z" fill="#34d7d5"/>
<path d="M241.6 133.0L247.6 130.5L241.6 130.5L235.6 133.0z" fill="#2fe0bb"/>
<path d="M104.2 141.0L110.2 141.1L104.3 140.1L98.3 140.0z" fill="#34cad0"/>
<path d="M163.9 142.7L169.9 141.8L163.9 141.2L157.9 142.2z" fill="#36cfd9"/>
<path d="M175.8 142.2L181.8 141.0L175.8 140.6L169.9 141.8z" fill="#35d1d7"/>
<path d="M235.6 135.2L241.6 133.0L235.6 133.0L229.6 135.2z" fill="#2eddb9"/>
<path d="M92.3 139.7L98.3 140.0L92.4 138.9L86.3 138.6z" fill="#32caca"/>
<path d="M116.2 141.9L122.2 141.8L116.2 140.9L110.2 141.1z" fill="#35cbd5"/>
<path d="M128.1 142.6L134.1 142.2L128.2 141.4L122.2 141.8z" fill="#36cbd8"/>
<path d="M140.0 142.9L146.0 142.4L140.1 141.6L134.1 142.2z" fill="#36ccda"/>
<path d="M152.0 143.0L157.9 142.2L152.0 141.6L146.0 142.4z" fill="#36cdda"/>
<path d="M187.8 141.4L193.7 140.0L187.7 139.6L181.8 141.0z" fill="#34d3d4"/>
<path d="M199.7 140.3L205.7 138.7L199.7 138.4L193.7 140.0z" fill="#33d6cf"/>
<path d="M211.7 138.9L217.6 137.1L211.6 136.9L205.7 138.7z" fill="#31d8c9"/>
<path d="M223.6 137.2L229.6 135.2L223.6 135.1L217.6 137.1z" fill="#2edcc2"/>
<path d="M247.7 132.9L253.7 130.5L247.6 130.5L241.6 133.0z" fill="#30deae"/>
<path d="M98.2 140.7L104.2 141.0L98.3 140.0L92.3 139.7z" fill="#2fcbc2"/>
<path d="M169.9 143.1L175.8 142.2L169.9 141.8L163.9 142.7z" fill="#33d0cf"/>
<path d="M241.7 135.1L247.7 132.9L241.6 133.0L235.6 135.2z" fill="#2fdcac"/>
<path d="M110.1 141.8L116.2 141.9L110.2 141.1L104.2 141.0z" fill="#31cbc7"/>
<path d="M134.0 143.2L140.0 142.9L134.1 142.2L128.1 142.6z" fill="#33ccce"/>
<path d="M146.0 143.4L152.0 143.0L146.0 142.4L140.0 142.9z" fill="#33cdcf"/>
<path d="M157.9 143.4L163.9 142.7L157.9 142.2L152.0 143.0z" fill="#33ced0"/>
<path d="M181.8 142.5L187.8 141.4L181.8 141.0L175.8 142.2z" fill="#32d2cc"/>
<path d="M193.7 141.6L199.7 140.3L193.7 140.0L187.8 141.4z" fill="#31d4c9"/>
<path d="M205.7 140.4L211.7 138.9L205.7 138.7L199.7 140.3z" fill="#2fd7c4"/>
<path d="M229.7 137.2L235.6 135.2L229.6 135.2L223.6 137.2z" fill="#2edbb6"/>
<path d="M122.1 142.7L128.1 142.6L122.2 141.8L116.2 141.9z" fill="#32cbcb"/>
<path d="M217.7 139.0L223.6 137.2L217.6 137.1L211.7 138.9z" fill="#2ddabd"/>
<path d="M104.1 141.4L110.1 141.8L104.2 141.0L98.2 140.7z" fill="#2dcbb9"/>
<path d="M140.0 143.7L146.0 143.4L140.0 142.9L134.0 143.2z" fill="#30cdc4"/>
<path d="M151.9 143.8L157.9 143.4L152.0 143.0L146.0 143.4z" fill="#30cec5"/>
<path d="M163.9 143.7L169.9 143.1L163.9 142.7L157.9 143.4z" fill="#30cfc5"/>
<path d="M175.8 143.3L181.8 142.5L175.8 142.2L169.9 143.1z" fill="#2fd1c3"/>
<path d="M187.8 142.6L193.7 141.6L187.8 141.4L181.8 142.5z" fill="#2ed3c1"/>
<path d="M199.7 141.7L205.7 140.4L199.7 140.3L193.7 141.6z" fill="#2dd5bd"/>
<path d="M235.7 137.0L241.7 135.1L235.6 135.2L229.7 137.2z" fill="#2fd9a9"/>
<path d="M116.1 142.5L122.1 142.7L116.2 141.9L110.1 141.8z" fill="#2ecbbe"/>
<path d="M128.0 143.2L134.0 143.2L128.1 142.6L122.1 142.7z" fill="#2fccc1"/>
<path d="M211.7 140.4L217.7 139.0L211.7 138.9L205.7 140.4z" fill="#2dd7b8"/>
<path d="M223.7 138.9L229.7 137.2L223.6 137.2L217.7 139.0z" fill="#2ed8b1"/>
<path d="M145.9 144.0L151.9 143.8L146.0 143.4L140.0 143.7z" fill="#2cceb9"/>
<path d="M157.9 144.1L163.9 143.7L157.9 143.4L151.9 143.8z" fill="#2dcfba"/>
<path d="M181.8 143.4L187.8 142.6L181.8 142.5L175.8 143.3z" fill="#2cd2b7"/>
<path d="M193.8 142.6L199.7 141.7L193.7 141.6L187.8 142.6z" fill="#2cd4b5"/>
<path d="M110.1 142.1L116.1 142.5L110.1 141.8L104.1 141.4z" fill="#2accb0"/>
<path d="M122.0 143.0L128.0 143.2L122.1 142.7L116.1 142.5z" fill="#2bccb4"/>
<path d="M134.0 143.6L140.0 143.7L134.0 143.2L128.0 143.2z" fill="#2ccdb7"/>
<path d="M169.9 143.9L175.8 143.3L169.9 143.1L163.9 143.7z" fill="#2cd0b9"/>
<path d="M205.7 141.6L211.7 140.4L205.7 140.4L199.7 141.7z" fill="#2dd5b0"/>
<path d="M217.7 140.3L223.7 138.9L217.7 139.0L211.7 140.4z" fill="#2ed6ab"/>
<path d="M229.7 138.7L235.7 137.0L229.7 137.2L223.7 138.9z" fill="#2fd7a4"/>
<path d="M151.9 144.2L157.9 144.1L151.9 143.8L145.9 144.0z" fill="#2bceae"/>
<path d="M187.8 143.3L193.8 142.6L187.8 142.6L181.8 143.4z" fill="#2cd1ab"/>
<path d="M116.0 142.5L122.0 143.0L116.1 142.5L110.1 142.1z" fill="#2bcaa6"/>
<path d="M128.0 143.3L134.0 143.6L128.0 143.2L122.0 143.0z" fill="#2bcba9"/>
<path d="M139.9 143.9L145.9 144.0L140.0 143.7L134.0 143.6z" fill="#2bccac"/>
<path d="M163.9 144.2L169.9 143.9L163.9 143.7L157.9 144.1z" fill="#2bcfae"/>
<path d="M175.8 143.9L181.8 143.4L175.8 143.3L169.9 143.9z" fill="#2cd0ad"/>
<path d="M199.8 142.5L205.7 141.6L199.7 141.7L193.8 142.6z" fill="#2dd2a8"/>
<path d="M211.8 141.4L217.7 140.3L211.7 140.4L205.7 141.6z" fill="#2ed3a4"/>
<path d="M223.8 140.0L229.7 138.7L223.7 138.9L217.7 140.3z" fill="#2ed49e"/>
<path d="M121.9 142.8L128.0 143.3L122.0 143.0L116.0 142.5z" fill="#14d135"/>
<path d="M133.9 143.5L139.9 143.9L134.0 143.6L128.0 143.3z" fill="#14d136"/>
<path d="M145.9 144.0L151.9 144.2L145.9 144.0L139.9 143.9z" fill="#14d136"/>
<path d="M157.9 144.2L163.9 144.2L157.9 144.1L151.9 144.2z" fill="#2ccca2"/>
<path d="M169.9 144.1L175.8 143.9L169.9 143.9L163.9 144.2z" fill="#2ccda2"/>
<path d="M181.8 143.7L187.8 143.3L181.8 143.4L175.8 143.9z" fill="#2ccea1"/>
<path d="M193.8 143.1L199.8 142.5L193.8 142.6L187.8 143.3z" fill="#2dcf9f"/>
<path d="M205.8 142.2L211.8 141.4L205.7 141.6L199.8 142.5z" fill="#2ed19b"/>
<path d="M217.8 141.1L223.8 140.0L217.7 140.3L211.8 141.4z" fill="#2ed297"/>
<path d="M127.9 142.9L133.9 143.5L128.0 143.3L121.9 142.8z" fill="#15d133"/>
<path d="M139.9 143.5L145.9 144.0L139.9 143.9L133.9 143.5z" fill="#15d134"/>
<path d="M163.9 144.0L169.9 144.1L163.9 144.2L157.9 144.2z" fill="#15d134"/>
<path d="M175.8 143.9L181.8 143.7L175.8 143.9L169.9 144.1z" fill="#15d134"/>
<path d="M199.8 142.8L205.8 142.2L199.8 142.5L193.8 143.1z" fill="#2ece92"/>
<path d="M211.8 141.8L217.8 141.1L211.8 141.4L205.8 142.2z" fill="#2fcf8e"/>
<path d="M151.9 143.9L157.9 144.2L151.9 144.2L145.9 144.0z" fill="#15d134"/>
<path d="M187.8 143.5L193.8 143.1L187.8 143.3L181.8 143.7z" fill="#2dcd94"/>
<path d="M133.9 142.8L139.9 143.5L133.9 143.5L127.9 142.9z" fill="#15d131"/>
<path d="M145.9 143.3L151.9 143.9L145.9 144.0L139.9 143.5z" fill="#15d132"/>
<path d="M157.9 143.7L163.9 144.0L157.9 144.2L151.9 143.9z" fill="#15d132"/>
<path d="M169.9 143.7L175.8 143.9L169.9 144.1L163.9 144.0z" fill="#15d132"/>
<path d="M181.9 143.5L187.8 143.5L181.8 143.7L175.8 143.9z" fill="#15d132"/>
<path d="M193.9 143.0L199.8 142.8L193.8 143.1L187.8 143.5z" fill="#15d131"/>
<path d="M205.9 142.3L211.8 141.8L205.8 142.2L199.8 142.8z" fill="#2fcc85"/>
<path d="M139.8 142.5L145.9 143.3L139.9 143.5L133.9 142.8z" fill="#15d12f"/>
<path d="M151.8 143.0L157.9 143.7L151.9 143.9L145.9 143.3z" fill="#15d130"/>
<path d="M163.9 143.2L169.9 143.7L163.9 144.0L157.9 143.7z" fill="#15d130"/>
<path d="M175.9 143.2L181.9 143.5L175.8 143.9L169.9 143.7z" fill="#15d130"/>
<path d="M187.9 143.0L193.9 143.0L187.8 143.5L181.9 143.5z" fill="#15d12f"/>
<path d="M199.9 142.4L205.9 142.3L199.8 142.8L193.9 143.0z" fill="#15d12e"/>
<path d="M145.8 142.1L151.8 143.0L145.9 143.3L139.8 142.5z" fill="#13d12b"/>
<path d="M157.8 142.5L163.9 143.2L157.9 143.7L151.8 143.0z" fill="#13d12c"/>
<path d="M169.9 142.7L175.9 143.2L169.9 143.7L163.9 143.2z" fill="#13d12c"/>
<path d="M181.9 142.6L187.9 143.0L181.9 143.5L175.9 143.2z" fill="#13d12c"/>
<path d="M193.9 142.3L199.9 142.4L193.9 143.0L187.9 143.0z" fill="#13d12b"/>
<path d="M151.8 141.4L157.8 142.5L151.8 143.0L145.8 142.1z" fill="#11d027"/>
<path d="M187.9 141.8L193.9 142.3L187.9 143.0L181.9 142.6z" fill="#11d028"/>
<path d="M163.8 141.8L169.9 142.7L163.9 143.2L157.8 142.5z" fill="#12d028"/>
<path d="M175.9 141.9L181.9 142.6L175.9 143.2L169.9 142.7z" fill="#12d028"/>
<path d="M157.8 140.6L163.8 141.8L157.8 142.5L151.8 141.4z" fill="#0fd023"/>
<path d="M169.9 140.9L175.9 141.9L169.9 142.7L163.8 141.8z" fill="#10d023"/>
<path d="M181.9 141.0L187.9 141.8L181.9 142.6L175.9 141.9z" fill="#10d024"/>
<path d="M163.8 139.6L169.9 140.9L163.8 141.8L157.8 140.6z" fill="#10d020"/>
<path d="M175.9 139.8L181.9 141.0L175.9 141.9L169.9 140.9z" fill="#10d020"/>
<path d="M169.9 138.4L175.9 139.8L169.9 140.9L163.8 139.6z" fill="#13d01e"/>
</g>
<rect x="167.7" y="130.3" width="4.4" height="6.8" rx="2.1" ry="2.4" fill="#c41616" stroke="#6e0a0a" stroke-width="0.6"/>
<circle cx="52.1" cy="157.0" r="1.1" fill="#111"/>
<circle cx="50.9" cy="132.9" r="1.1" fill="#111"/>
<circle cx="49.8" cy="108.7" r="1.1" fill="#111"/>
<circle cx="48.6" cy="84.1" r="1.1" fill="#111"/>
<circle cx="47.4" cy="59.3" r="1.1" fill="#111"/>
<circle cx="46.2" cy="34.3" r="1.1" fill="#111"/>
<circle cx="169.9" cy="251.5" r="1.1" fill="#111"/>
<circle cx="193.0" cy="240.3" r="1.1" fill="#111"/>
<circle cx="216.2" cy="229.1" r="1.1" fill="#111"/>
<circle cx="239.4" cy="217.8" r="1.1" fill="#111"/>
<circle cx="262.6" cy="206.6" r="1.1" fill="#111"/>
<circle cx="285.8" cy="195.4" r="1.1" fill="#111"/>
<circle cx="169.9" cy="251.5" r="1.1" fill="#111"/>
<circle cx="140.9" cy="237.5" r="1.1" fill="#111"/>
<circle cx="111.9" cy="223.5" r="1.1" fill="#111"/>
<circle cx="82.9" cy="209.4" r="1.1" fill="#111"/>
<circle cx="53.9" cy="195.4" r="1.1" fill="#111"/>
<polygon points="519.5,254.1 635.6,198.6 519.5,155.0 403.4,198.6" fill="#626262" stroke="#151515" stroke-width="0.9"/>
<polyline points="414.3,203.8 415.1,203.0 415.3,202.8 415.9,202.1 416.7,201.2 417.2,200.8 417.6,200.4 418.5,199.6 419.3,198.8 419.4,198.7 420.3,197.9 421.2,197.1 421.9,196.5 422.1,196.4 423.1,195.6 424.1,194.8 425.0,194.1 425.1,194.1 426.1,193.3 427.2,192.6 428.2,191.8 428.8,191.5 429.3,191.1 430.4,190.4 431.5,189.7 432.7,189.0 433.6,188.4 433.8,188.3 435.0,187.7 436.1,187.0 437.3,186.3 438.6,185.7 439.8,185.0 440.5,184.7" fill="none" stroke="#62d208" stroke-width="1.5" stroke-linecap="round"/>
<polyline points="480.9,169.5 481.9,169.2 483.6,168.8 485.2,168.3 487.0,167.9 488.7,167.4 490.4,167.0 490.8,166.9 492.2,166.6 493.9,166.2 495.7,165.8 497.5,165.3 498.6,165.1 499.3,164.9 501.2,164.5 503.0,164.1 504.9,163.8 505.3,163.7 506.8,163.4 508.7,163.0 510.6,162.6 511.4,162.5 512.5,162.3 514.5,161.9 516.5,161.6 516.9,161.5 518.5,161.2 520.5,160.9 522.1,160.6 522.5,160.5 524.6,160.2 526.6,159.9 527.0,159.8 528.7,159.6 530.8,159.3" fill="none" stroke="#62d208" stroke-width="1.5" stroke-linecap="round"/>
<polyline points="429.8,211.3 430.1,210.8 430.5,210.3 431.1,209.3 431.3,209.1 431.8,208.4 432.6,207.5 432.7,207.3 433.3,206.6 434.1,205.7 434.4,205.4 434.9,204.8 435.7,203.9 436.3,203.3 436.6,203.1 437.5,202.3 438.4,201.4 438.6,201.2 439.3,200.6 440.2,199.8 441.2,199.0 441.4,198.9 442.2,198.2 443.2,197.5 444.2,196.7 444.8,196.3 445.3,196.0 446.4,195.2 447.4,194.5 448.6,193.8 449.2,193.4 449.7,193.1 450.8,192.4 452.0,191.7 453.2,191.0 454.4,190.3 455.6,189.7 455.6,189.7 456.9,189.0 458.1,188.4 459.4,187.7 460.7,187.1 462.0,186.5 463.3,185.9 464.7,185.3 466.0,184.7 467.4,184.1 468.8,183.5 470.2,182.9 471.7,182.3 473.1,181.8 474.6,181.2 476.1,180.7 477.6,180.1 479.1,179.6 480.6,179.1 482.1,178.6 483.7,178.1 485.3,177.5 486.9,177.0 488.5,176.6 490.1,176.1 491.8,175.6 492.8,175.3 493.5,175.1 495.1,174.6 496.8,174.2 498.6,173.7 500.3,173.3 502.0,172.8 502.2,172.8 503.8,172.4 505.6,172.0 507.4,171.6 509.2,171.1 509.7,171.0 511.1,170.7 513.0,170.3 514.8,169.9 516.2,169.7 516.7,169.5 518.7,169.2 520.6,168.8 522.0,168.5 522.5,168.4 524.5,168.0 526.5,167.7 527.4,167.5 528.5,167.3 530.6,167.0 532.4,166.7 532.6,166.7 534.7,166.3 536.8,166.0 537.1,165.9 539.0,165.7 541.1,165.4 541.6,165.3 543.3,165.1 545.5,164.8" fill="none" stroke="#1fd326" stroke-width="1.5" stroke-linecap="round"/>
<polyline points="449.8,220.8 450.2,219.7 450.3,219.3 450.6,218.6 451.0,217.7 451.1,217.5 451.6,216.5 451.7,216.1 452.1,215.4 452.6,214.5 452.7,214.4 453.3,213.4 453.7,212.8 453.9,212.5 454.6,211.5 455.0,210.9 455.3,210.6 456.1,209.6 456.6,209.0 456.9,208.7 457.7,207.9 458.5,207.0 458.5,207.0 459.4,206.1 460.3,205.3 460.7,204.8 461.2,204.5 462.1,203.6 463.1,202.8 463.6,202.5 464.1,202.0 465.1,201.3 466.2,200.5 467.2,199.7 467.3,199.7 468.3,199.0 469.5,198.3 470.6,197.5 471.8,196.8 472.5,196.4 472.9,196.1 474.2,195.4 475.4,194.8 476.6,194.1 477.9,193.4 479.2,192.8 480.5,192.1 481.8,191.5 483.1,190.9 483.2,190.9 484.6,190.3 486.0,189.7 487.4,189.1 488.8,188.5 490.3,187.9 491.7,187.3 493.2,186.8 494.7,186.2 496.1,185.7 496.3,185.7 497.8,185.1 499.4,184.6 501.0,184.1 502.6,183.6 504.2,183.1 505.9,182.6 507.6,182.1 509.3,181.6 509.8,181.4 511.0,181.1 512.7,180.6 514.4,180.2 516.2,179.7 518.0,179.3 518.2,179.2 519.8,178.8 521.7,178.4 523.5,178.0 525.0,177.6 525.4,177.6 527.3,177.2 529.2,176.8 531.1,176.4 531.1,176.4 533.1,176.0 535.1,175.6 536.5,175.3 537.1,175.2 539.1,174.9 541.2,174.5 541.5,174.4 543.2,174.1 545.3,173.8 546.3,173.7 547.4,173.5 549.6,173.1 550.8,173.0 551.8,172.8 553.9,172.5 555.1,172.3 556.2,172.2 558.4,171.9 559.2,171.8 560.7,171.6 562.9,171.3" fill="none" stroke="#30d596" stroke-width="1.5" stroke-linecap="round"/>
<polyline points="478.4,234.5 478.2,233.7 478.0,232.9 477.8,232.5 477.6,231.4 477.6,231.2 477.4,230.0 477.4,230.0 477.3,228.7 477.3,228.6 477.3,227.4 477.3,227.3 477.4,226.1 477.4,226.0 477.6,224.8 477.6,224.7 477.8,223.6 477.9,223.2 478.1,222.4 478.3,221.8 478.4,221.3 478.8,220.2 478.8,220.2 479.3,219.1 479.5,218.6 479.8,218.1 480.4,217.0 480.4,217.0 481.0,216.0 481.5,215.2 481.6,215.1 482.3,214.1 482.9,213.4 483.1,213.2 483.8,212.2 484.6,211.4 484.6,211.3 485.5,210.4 486.4,209.6 486.8,209.2 487.3,208.7 488.2,207.9 489.2,207.1 489.7,206.7 490.2,206.3 491.3,205.5 492.4,204.7 493.5,204.0 493.8,203.7 494.6,203.2 495.8,202.5 497.0,201.8 498.2,201.0 499.4,200.4 500.7,199.7 501.1,199.4 502.0,199.0 503.3,198.3 504.7,197.7 506.0,197.1 507.4,196.4 508.8,195.8 510.3,195.2 511.8,194.6 513.3,194.0 514.8,193.4 516.3,192.9 517.9,192.3 519.5,191.8 519.6,191.7 521.1,191.2 522.8,190.7 524.4,190.2 526.1,189.7 527.8,189.2 529.6,188.7 530.2,188.5 531.3,188.2 533.1,187.8 534.9,187.3 536.7,186.8 537.5,186.7 538.6,186.4 540.5,186.0 542.4,185.5 543.7,185.3 544.3,185.1 546.3,184.7 548.3,184.3 549.2,184.1 550.3,183.9 552.3,183.5 554.3,183.2 554.4,183.2 556.5,182.8 558.6,182.4 559.0,182.4 560.7,182.1 562.9,181.7 563.4,181.7 565.1,181.4 567.3,181.1 567.6,181.0 569.5,180.8 571.7,180.5 571.8,180.5 574.1,180.2 575.6,180.0 576.4,179.9 578.8,179.6 579.4,179.5 581.1,179.3 583.1,179.1 583.5,179.0" fill="none" stroke="#32bcda" stroke-width="1.5" stroke-linecap="round"/>
<polyline points="535.4,246.5 533.9,245.9 532.4,245.2 531.0,244.5 529.9,243.9 529.7,243.8 528.4,243.0 527.2,242.2 526.0,241.4 524.8,240.6 523.8,239.8 523.6,239.6 522.8,238.9 521.8,238.0 520.9,237.1 520.8,237.0 520.1,236.1 519.3,235.1 519.1,234.9 518.6,234.1 518.0,233.1 518.0,233.0 517.5,232.0 517.2,231.3 517.0,230.9 516.7,229.8 516.7,229.7 516.4,228.5 516.4,228.3 516.3,227.2 516.2,226.9 516.2,225.9 516.2,225.6 516.3,224.6 516.4,224.4 516.6,223.2 516.6,223.2 517.0,222.0 517.1,221.6 517.4,220.9 517.8,220.0 517.9,219.9 518.5,218.8 518.8,218.3 519.1,217.8 519.9,216.9 520.2,216.4 520.6,215.9 521.5,215.0 522.2,214.2 522.3,214.1 523.3,213.3 524.3,212.4 525.2,211.6 525.3,211.6 526.4,210.8 527.5,210.0 528.6,209.2 529.8,208.5 530.8,207.9 531.1,207.8 532.3,207.1 533.7,206.4 535.0,205.7 536.4,205.0 537.8,204.4 539.3,203.7 540.8,203.1 542.3,202.5 543.9,201.9 545.4,201.4 547.1,200.8 547.1,200.8 548.7,200.2 550.4,199.7 552.1,199.2 553.9,198.7 555.7,198.2 556.2,198.0 557.5,197.7 559.4,197.2 561.2,196.7 562.7,196.4 563.2,196.3 565.1,195.8 567.1,195.4 568.2,195.2 569.1,195.0 571.1,194.6 573.2,194.2 573.2,194.2 575.3,193.8 577.5,193.4 577.8,193.4 579.6,193.1 581.8,192.7 582.1,192.7 584.1,192.4 586.2,192.1 586.3,192.0 588.6,191.7 590.1,191.5 591.0,191.4 593.3,191.1 593.8,191.0 595.7,190.8 597.5,190.6 598.2,190.5 600.6,190.3 601.0,190.2 603.1,190.0 604.5,189.9 605.7,189.8 607.8,189.5 608.2,189.5 610.8,189.3" fill="none" stroke="#194ed8" stroke-width="1.5" stroke-linecap="round"/>
<path d="M396.0,39.3L401.6,159.9 M420.7,33.7L425.2,151.9 M445.4,28.1L448.8,143.9 M470.1,22.5L472.3,135.9 M494.8,16.9L495.9,127.9 M519.5,11.3L519.5,119.9 M643.0,39.3L637.4,159.9 M618.3,33.7L613.8,151.9 M593.6,28.1L590.2,143.9 M568.9,22.5L566.7,135.9 M544.2,16.9L543.1,127.9 M519.5,11.3L519.5,119.9 M401.6,159.9L519.5,119.9 M519.5,119.9L637.4,159.9 M400.5,136.3L519.5,98.7 M519.5,98.7L638.5,136.3 M399.4,112.4L519.5,77.1 M519.5,77.1L639.6,112.4 M398.3,88.3L519.5,55.4 M519.5,55.4L640.7,88.3 M397.2,63.9L519.5,33.5 M519.5,33.5L641.8,63.9 M396.0,39.3L519.5,11.3 M519.5,11.3L643.0,39.3 M401.6,159.9L403.4,198.6 M637.4,159.9L635.6,198.6 M519.5,119.9L519.5,155.0" fill="none" stroke="#303030" stroke-width="0.9"/>
<g stroke="#0c1820" stroke-width="0.65" stroke-linejoin="round">
<path d="M519.5 57.1L525.6 53.1L519.5 45.9L513.4 49.8z" fill="#b8ff09"/>
<path d="M513.4 60.8L519.5 57.1L513.4 49.8L507.4 53.4z" fill="#a7ff09"/>
<path d="M525.6 64.2L531.6 60.2L525.6 53.1L519.5 57.1z" fill="#8eff09"/>
<path d="M507.4 64.4L513.4 60.8L507.4 53.4L501.3 56.9z" fill="#97ff09"/>
<path d="M531.6 71.2L537.6 67.0L531.6 60.2L525.6 64.2z" fill="#60ff0c"/>
<path d="M519.5 68.0L525.6 64.2L519.5 57.1L513.4 60.8z" fill="#7aff0b"/>
<path d="M501.3 67.7L507.4 64.4L501.3 56.9L495.2 60.1z" fill="#8aff09"/>
<path d="M513.5 71.6L519.5 68.0L513.4 60.8L507.4 64.4z" fill="#69ff0c"/>
<path d="M525.5 75.0L531.6 71.2L525.6 64.2L519.5 68.0z" fill="#4dff0d"/>
<path d="M537.6 77.9L543.6 73.7L537.6 67.0L531.6 71.2z" fill="#3aff1a"/>
<path d="M519.5 78.7L525.5 75.0L519.5 68.0L513.5 71.6z" fill="#3eff13"/>
<path d="M495.3 70.7L501.3 67.7L495.2 60.1L489.2 63.1z" fill="#7dff0a"/>
<path d="M507.4 75.0L513.5 71.6L507.4 64.4L501.3 67.7z" fill="#5aff0c"/>
<path d="M531.5 81.9L537.6 77.9L531.6 71.2L525.5 75.0z" fill="#2fff2a"/>
<path d="M543.6 84.5L549.6 80.3L543.6 73.7L537.6 77.9z" fill="#22ff3d"/>
<path d="M489.3 73.6L495.3 70.7L489.2 63.1L483.1 65.9z" fill="#72ff0b"/>
<path d="M513.5 82.1L519.5 78.7L513.5 71.6L507.4 75.0z" fill="#36ff1f"/>
<path d="M525.5 85.6L531.5 81.9L525.5 75.0L519.5 78.7z" fill="#26ff38"/>
<path d="M549.5 90.8L555.5 86.6L549.6 80.3L543.6 84.5z" fill="#2cff74"/>
<path d="M501.4 78.1L507.4 75.0L501.3 67.7L495.3 70.7z" fill="#4dff0d"/>
<path d="M537.5 88.5L543.6 84.5L537.6 77.9L531.5 81.9z" fill="#21ff53"/>
<path d="M483.2 76.2L489.3 73.6L483.1 65.9L477.1 68.4z" fill="#69ff0b"/>
<path d="M495.4 81.0L501.4 78.1L495.3 70.7L489.3 73.6z" fill="#43ff0e"/>
<path d="M507.5 85.3L513.5 82.1L507.4 75.0L501.4 78.1z" fill="#2eff2a"/>
<path d="M519.5 89.0L525.5 85.6L519.5 78.7L513.5 82.1z" fill="#1dff44"/>
<path d="M531.5 92.2L537.5 88.5L531.5 81.9L525.5 85.6z" fill="#2aff6d"/>
<path d="M543.5 94.9L549.5 90.8L543.6 84.5L537.5 88.5z" fill="#37ff92"/>
<path d="M555.4 97.0L561.5 92.7L555.5 86.6L549.5 90.8z" fill="#42ffb0"/>
<path d="M477.2 78.5L483.2 76.2L477.1 68.4L471.1 70.7z" fill="#62ff0c"/>
<path d="M501.4 88.3L507.5 85.3L501.4 78.1L495.4 81.0z" fill="#28ff33"/>
<path d="M537.5 98.7L543.5 94.9L537.5 88.5L531.5 92.2z" fill="#40ffab"/>
<path d="M561.4 103.0L567.4 98.7L561.5 92.7L555.4 97.0z" fill="#3effd1"/>
<path d="M489.4 83.7L495.4 81.0L489.3 73.6L483.2 76.2z" fill="#3dff13"/>
<path d="M513.5 92.3L519.5 89.0L513.5 82.1L507.5 85.3z" fill="#22ff56"/>
<path d="M525.5 95.7L531.5 92.2L525.5 85.6L519.5 89.0z" fill="#32ff84"/>
<path d="M549.4 101.1L555.4 97.0L549.5 90.8L543.5 94.9z" fill="#40ffc0"/>
<path d="M471.2 80.7L477.2 78.5L471.1 70.7L465.0 72.8z" fill="#5dff0c"/>
<path d="M483.3 86.1L489.4 83.7L483.2 76.2L477.2 78.5z" fill="#39ff19"/>
<path d="M495.4 91.0L501.4 88.3L495.4 81.0L489.4 83.7z" fill="#23ff39"/>
<path d="M507.5 95.3L513.5 92.3L507.5 85.3L501.4 88.3z" fill="#27ff66"/>
<path d="M531.5 102.2L537.5 98.7L531.5 92.2L525.5 95.7z" fill="#40ffb9"/>
<path d="M543.4 104.9L549.4 101.1L543.5 94.9L537.5 98.7z" fill="#3effcf"/>
<path d="M555.4 107.0L561.4 103.0L555.4 97.0L549.4 101.1z" fill="#3cffe1"/>
<path d="M567.3 108.7L573.3 104.4L567.4 98.7L561.4 103.0z" fill="#3bffef"/>
<path d="M519.5 99.0L525.5 95.7L519.5 89.0L513.5 92.3z" fill="#39ff97"/>
<path d="M489.4 93.4L495.4 91.0L489.4 83.7L483.3 86.1z" fill="#1fff3e"/>
<path d="M549.4 110.9L555.4 107.0L549.4 101.1L543.4 104.9z" fill="#3affee"/>
<path d="M465.1 82.5L471.2 80.7L465.0 72.8L459.0 74.6z" fill="#5aff0c"/>
<path d="M477.3 88.3L483.3 86.1L477.2 78.5L471.2 80.7z" fill="#36ff1c"/>
<path d="M501.5 98.0L507.5 95.3L501.4 88.3L495.4 91.0z" fill="#2cff73"/>
<path d="M513.5 102.1L519.5 99.0L513.5 92.3L507.5 95.3z" fill="#3effa6"/>
<path d="M525.5 105.5L531.5 102.2L525.5 95.7L519.5 99.0z" fill="#3effc4"/>
<path d="M537.4 108.5L543.4 104.9L537.5 98.7L531.5 102.2z" fill="#3cffdb"/>
<path d="M561.3 112.8L567.3 108.7L561.4 103.0L555.4 107.0z" fill="#3effff"/>
<path d="M573.2 114.3L579.2 110.0L573.3 104.4L567.3 108.7z" fill="#42ffff"/>
<path d="M483.4 95.7L489.4 93.4L483.3 86.1L477.3 88.3z" fill="#1dff41"/>
<path d="M495.5 100.5L501.5 98.0L495.4 91.0L489.4 93.4z" fill="#2fff7c"/>
<path d="M519.5 108.6L525.5 105.5L519.5 99.0L513.5 102.1z" fill="#3dffcc"/>
<path d="M543.4 114.5L549.4 110.9L543.4 104.9L537.4 108.5z" fill="#3cfffa"/>
<path d="M555.3 116.7L561.3 112.8L555.4 107.0L549.4 110.9z" fill="#42ffff"/>
<path d="M459.1 84.1L465.1 82.5L459.0 74.6L452.9 76.2z" fill="#5aff0c"/>
<path d="M579.0 119.7L585.1 115.4L579.2 110.0L573.2 114.3z" fill="#44ffff"/>
<path d="M471.3 90.2L477.3 88.3L471.2 80.7L465.1 82.5z" fill="#34ff1e"/>
<path d="M507.5 104.9L513.5 102.1L507.5 95.3L501.5 98.0z" fill="#3fffaf"/>
<path d="M531.4 111.8L537.4 108.5L531.5 102.2L525.5 105.5z" fill="#3bffe5"/>
<path d="M567.2 118.4L573.2 114.3L567.3 108.7L561.3 112.8z" fill="#47ffff"/>
<path d="M453.1 85.5L459.1 84.1L452.9 76.2L446.8 77.5z" fill="#5bff0c"/>
<path d="M477.4 97.6L483.4 95.7L477.3 88.3L471.3 90.2z" fill="#1cff43"/>
<path d="M489.5 102.8L495.5 100.5L489.4 93.4L483.4 95.7z" fill="#31ff82"/>
<path d="M501.5 107.4L507.5 104.9L501.5 98.0L495.5 100.5z" fill="#3fffb4"/>
<path d="M513.5 111.4L519.5 108.6L513.5 102.1L507.5 104.9z" fill="#3cffd2"/>
<path d="M525.5 114.9L531.4 111.8L525.5 105.5L519.5 108.6z" fill="#39ffec"/>
<path d="M537.4 117.8L543.4 114.5L537.4 108.5L531.4 111.8z" fill="#3fffff"/>
<path d="M549.3 120.3L555.3 116.7L549.4 110.9L543.4 114.5z" fill="#46ffff"/>
<path d="M561.2 122.2L567.2 118.4L561.3 112.8L555.3 116.7z" fill="#43f9ff"/>
<path d="M584.9 124.8L590.9 120.5L585.1 115.4L579.0 119.7z" fill="#39d5ff"/>
<path d="M465.3 91.8L471.3 90.2L465.1 82.5L459.1 84.1z" fill="#34ff1e"/>
<path d="M573.1 123.7L579.0 119.7L573.2 114.3L567.2 118.4z" fill="#3de5ff"/>
<path d="M507.5 114.0L513.5 111.4L507.5 104.9L501.5 107.4z" fill="#3bffd6"/>
<path d="M531.4 121.0L537.4 117.8L531.4 111.8L525.5 114.9z" fill="#42ffff"/>
<path d="M447.0 86.6L453.1 85.5L446.8 77.5L440.8 78.5z" fill="#5eff0b"/>
<path d="M471.4 99.3L477.4 97.6L471.3 90.2L465.3 91.8z" fill="#1bff42"/>
<path d="M567.1 127.6L573.1 123.7L567.2 118.4L561.2 122.2z" fill="#37ceff"/>
<path d="M590.8 129.7L596.8 125.5L590.9 120.5L584.9 124.8z" fill="#30b1ff"/>
<path d="M459.2 93.2L465.3 91.8L459.1 84.1L453.1 85.5z" fill="#35ff1c"/>
<path d="M483.5 104.8L489.5 102.8L483.4 95.7L477.4 97.6z" fill="#32ff84"/>
<path d="M495.5 109.7L501.5 107.4L495.5 100.5L489.5 102.8z" fill="#3effb6"/>
<path d="M519.5 117.7L525.5 114.9L519.5 108.6L513.5 111.4z" fill="#3afff2"/>
<path d="M543.3 123.7L549.3 120.3L543.4 114.5L537.4 117.8z" fill="#44ffff"/>
<path d="M555.2 125.8L561.2 122.2L555.3 116.7L549.3 120.3z" fill="#3de4ff"/>
<path d="M578.9 128.8L584.9 124.8L579.0 119.7L573.1 123.7z" fill="#33bdff"/>
<path d="M440.9 87.4L447.0 86.6L440.8 78.5L434.7 79.3z" fill="#63ff0b"/>
<path d="M465.4 100.7L471.4 99.3L465.3 91.8L459.2 93.2z" fill="#1cff40"/>
<path d="M501.6 116.3L507.5 114.0L501.5 107.4L495.5 109.7z" fill="#3affd8"/>
<path d="M513.5 120.3L519.5 117.7L513.5 111.4L507.5 114.0z" fill="#3bfff6"/>
<path d="M525.5 123.8L531.4 121.0L525.5 114.9L519.5 117.7z" fill="#44ffff"/>
<path d="M537.4 126.8L543.3 123.7L537.4 117.8L531.4 121.0z" fill="#40f0ff"/>
<path d="M572.9 132.7L578.9 128.8L573.1 123.7L567.1 127.6z" fill="#2ea9ff"/>
<path d="M596.6 134.4L602.6 130.2L596.8 125.5L590.8 129.7z" fill="#2990ff"/>
<path d="M453.2 94.4L459.2 93.2L453.1 85.5L447.0 86.6z" fill="#36ff18"/>
<path d="M477.5 106.5L483.5 104.8L477.4 97.6L471.4 99.3z" fill="#32ff83"/>
<path d="M561.1 131.2L567.1 127.6L561.2 122.2L555.2 125.8z" fill="#32bbff"/>
<path d="M584.8 133.7L590.8 129.7L584.9 124.8L578.9 128.8z" fill="#2b9bff"/>
<path d="M489.6 111.7L495.5 109.7L489.5 102.8L483.5 104.8z" fill="#3dffb7"/>
<path d="M549.2 129.2L555.2 125.8L549.3 120.3L543.3 123.7z" fill="#38d3ff"/>
<path d="M519.5 126.4L525.5 123.8L519.5 117.7L513.5 120.3z" fill="#45ffff"/>
<path d="M459.3 101.9L465.4 100.7L459.2 93.2L453.2 94.4z" fill="#1eff3d"/>
<path d="M578.8 137.5L584.8 133.7L578.9 128.8L572.9 132.7z" fill="#2788ff"/>
<path d="M434.8 88.0L440.9 87.4L434.7 79.3L428.6 79.9z" fill="#69ff0a"/>
<path d="M447.1 95.2L453.2 94.4L447.0 86.6L440.9 87.4z" fill="#39ff13"/>
<path d="M471.5 108.0L477.5 106.5L471.4 99.3L465.4 100.7z" fill="#30ff7f"/>
<path d="M495.6 118.4L501.6 116.3L495.5 109.7L489.6 111.7z" fill="#3affd8"/>
<path d="M507.6 122.7L513.5 120.3L507.5 114.0L501.6 116.3z" fill="#3cfff7"/>
<path d="M531.4 129.7L537.4 126.8L531.4 121.0L525.5 123.8z" fill="#3de4ff"/>
<path d="M543.3 132.3L549.2 129.2L543.3 123.7L537.4 126.8z" fill="#34c4ff"/>
<path d="M567.0 136.3L572.9 132.7L567.1 127.6L561.1 131.2z" fill="#2b98ff"/>
<path d="M590.7 138.4L596.6 134.4L590.8 129.7L584.8 133.7z" fill="#257eff"/>
<path d="M602.5 138.9L608.5 134.8L602.6 130.2L596.6 134.4z" fill="#2477ff"/>
<path d="M483.6 113.5L489.6 111.7L483.5 104.8L477.5 106.5z" fill="#3dffb5"/>
<path d="M555.1 134.5L561.1 131.2L555.2 125.8L549.2 129.2z" fill="#2facff"/>
<path d="M453.3 102.8L459.3 101.9L453.2 94.4L447.1 95.2z" fill="#21ff37"/>
<path d="M513.5 128.8L519.5 126.4L513.5 120.3L507.6 122.7z" fill="#45ffff"/>
<path d="M525.5 132.3L531.4 129.7L525.5 123.8L519.5 126.4z" fill="#3bdbff"/>
<path d="M584.7 142.2L590.7 138.4L584.8 133.7L578.8 137.5z" fill="#226fff"/>
<path d="M428.7 88.2L434.8 88.0L428.6 79.9L422.5 80.1z" fill="#72ff0a"/>
<path d="M465.5 109.2L471.5 108.0L465.4 100.7L459.3 101.9z" fill="#2dff77"/>
<path d="M489.6 120.1L495.6 118.4L489.6 111.7L483.6 113.5z" fill="#39ffd6"/>
<path d="M549.2 137.7L555.1 134.5L549.2 129.2L543.3 132.3z" fill="#2ca0ff"/>
<path d="M572.9 141.1L578.8 137.5L572.9 132.7L567.0 136.3z" fill="#247bff"/>
<path d="M608.3 143.2L614.3 139.1L608.5 134.8L602.5 138.9z" fill="#2061ff"/>
<path d="M441.1 95.8L447.1 95.2L440.9 87.4L434.8 88.0z" fill="#3dff0d"/>
<path d="M477.6 114.9L483.6 113.5L477.5 106.5L471.5 108.0z" fill="#3dffb2"/>
<path d="M501.6 124.8L507.6 122.7L501.6 116.3L495.6 118.4z" fill="#3cfff7"/>
<path d="M537.3 135.2L543.3 132.3L537.4 126.8L531.4 129.7z" fill="#32baff"/>
<path d="M561.0 139.6L567.0 136.3L561.1 131.2L555.1 134.5z" fill="#278aff"/>
<path d="M596.5 142.8L602.5 138.9L596.6 134.4L590.7 138.4z" fill="#2167ff"/>
<path d="M422.6 88.2L428.7 88.2L422.5 80.1L416.3 80.1z" fill="#7cff09"/>
<path d="M447.3 103.4L453.3 102.8L447.1 95.2L441.1 95.8z" fill="#25ff30"/>
<path d="M459.4 110.1L465.5 109.2L459.3 101.9L453.3 102.8z" fill="#2aff6d"/>
<path d="M483.6 121.7L489.6 120.1L483.6 113.5L477.6 114.9z" fill="#39ffd2"/>
<path d="M507.6 130.9L513.5 128.8L507.6 122.7L501.6 124.8z" fill="#44feff"/>
<path d="M519.5 134.6L525.5 132.3L519.5 126.4L513.5 128.8z" fill="#39d5ff"/>
<path d="M531.4 137.9L537.3 135.2L531.4 129.7L525.5 132.3z" fill="#30b2ff"/>
<path d="M555.1 142.7L561.0 139.6L555.1 134.5L549.2 137.7z" fill="#257fff"/>
<path d="M578.7 145.7L584.7 142.2L578.8 137.5L572.9 141.1z" fill="#2063ff"/>
<path d="M590.5 146.6L596.5 142.8L590.7 138.4L584.7 142.2z" fill="#1e59ff"/>
<path d="M614.2 147.2L620.2 143.2L614.3 139.1L608.3 143.2z" fill="#1d50ff"/>
<path d="M435.0 96.1L441.1 95.8L434.8 88.0L428.7 88.2z" fill="#46ff0c"/>
<path d="M471.6 116.2L477.6 114.9L471.5 108.0L465.5 109.2z" fill="#3cffad"/>
<path d="M495.6 126.6L501.6 124.8L495.6 118.4L489.6 120.1z" fill="#3bfff5"/>
<path d="M543.2 140.5L549.2 137.7L543.3 132.3L537.3 135.2z" fill="#2a96ff"/>
<path d="M566.9 144.4L572.9 141.1L567.0 136.3L561.0 139.6z" fill="#2270ff"/>
<path d="M602.4 147.1L608.3 143.2L602.5 138.9L596.5 142.8z" fill="#1d52ff"/>
<path d="M441.2 103.7L447.3 103.4L441.1 95.8L435.0 96.1z" fill="#2aff28"/>
<path d="M477.6 122.9L483.6 121.7L477.6 114.9L471.6 116.2z" fill="#39ffcd"/>
<path d="M501.6 132.7L507.6 130.9L501.6 124.8L495.6 126.6z" fill="#44fdff"/>
<path d="M537.3 143.2L543.2 140.5L537.3 135.2L531.4 137.9z" fill="#288fff"/>
<path d="M561.0 147.5L566.9 144.4L561.0 139.6L555.1 142.7z" fill="#2167ff"/>
<path d="M596.4 150.7L602.4 147.1L596.5 142.8L590.5 146.6z" fill="#1c4bff"/>
<path d="M416.5 88.0L422.6 88.2L416.3 80.1L410.2 79.8z" fill="#87fe09"/>
<path d="M428.9 96.1L435.0 96.1L428.7 88.2L422.6 88.2z" fill="#51ff0c"/>
<path d="M453.4 110.7L459.4 110.1L453.3 102.8L447.3 103.4z" fill="#25ff60"/>
<path d="M465.6 117.1L471.6 116.2L465.5 109.2L459.4 110.1z" fill="#3cffa6"/>
<path d="M489.7 128.1L495.6 126.6L489.6 120.1L483.6 121.7z" fill="#3afff0"/>
<path d="M513.5 136.7L519.5 134.6L513.5 128.8L507.6 130.9z" fill="#38d2ff"/>
<path d="M525.4 140.2L531.4 137.9L525.5 132.3L519.5 134.6z" fill="#2fadff"/>
<path d="M549.1 145.6L555.1 142.7L549.2 137.7L543.2 140.5z" fill="#2478ff"/>
<path d="M572.8 149.0L578.7 145.7L572.9 141.1L566.9 144.4z" fill="#1e59ff"/>
<path d="M584.6 150.1L590.5 146.6L584.7 142.2L578.7 145.7z" fill="#1d50ff"/>
<path d="M608.2 151.0L614.2 147.2L608.3 143.2L602.4 147.1z" fill="#1c48ff"/>
<path d="M620.0 151.0L626.0 147.1L620.2 143.2L614.2 147.2z" fill="#1c46ff"/>
<path d="M435.1 103.8L441.2 103.7L435.0 96.1L428.9 96.1z" fill="#31ff1e"/>
<path d="M471.6 123.9L477.6 122.9L471.6 116.2L465.6 117.1z" fill="#39ffc5"/>
<path d="M495.7 134.3L501.6 132.7L495.6 126.6L489.7 128.1z" fill="#43fdff"/>
<path d="M543.2 148.2L549.1 145.6L543.2 140.5L537.3 143.2z" fill="#2373ff"/>
<path d="M566.9 152.1L572.8 149.0L566.9 144.4L561.0 147.5z" fill="#1d51ff"/>
<path d="M602.3 154.6L608.2 151.0L602.4 147.1L596.4 150.7z" fill="#1b42ff"/>
<path d="M410.4 87.4L416.5 88.0L410.2 79.8L404.0 79.2z" fill="#93fc08"/>
<path d="M447.4 111.1L453.4 110.7L447.3 103.4L441.2 103.7z" fill="#1fff4f"/>
<path d="M483.7 129.4L489.7 128.1L483.6 121.7L477.6 122.9z" fill="#38ffea"/>
<path d="M507.6 138.6L513.5 136.7L507.6 130.9L501.6 132.7z" fill="#38d1ff"/>
<path d="M531.4 145.5L537.3 143.2L531.4 137.9L525.4 140.2z" fill="#278bff"/>
<path d="M555.0 150.4L561.0 147.5L555.1 142.7L549.1 145.6z" fill="#1f60ff"/>
<path d="M590.5 154.2L596.4 150.7L590.5 146.6L584.6 150.1z" fill="#1c45ff"/>
<path d="M625.9 154.6L631.8 150.7L626.0 147.1L620.0 151.0z" fill="#1b3dff"/>
<path d="M422.8 95.9L428.9 96.1L422.6 88.2L416.5 88.0z" fill="#5dfe0b"/>
<path d="M459.5 117.8L465.6 117.1L459.4 110.1L453.4 110.7z" fill="#3aff9a"/>
<path d="M519.5 142.3L525.4 140.2L519.5 134.6L513.5 136.7z" fill="#2eabff"/>
<path d="M578.7 153.3L584.6 150.1L578.7 145.7L572.8 149.0z" fill="#1c4aff"/>
<path d="M614.1 154.7L620.0 151.0L614.2 147.2L608.2 151.0z" fill="#1b3fff"/>
<path d="M489.7 135.5L495.7 134.3L489.7 128.1L483.7 129.4z" fill="#41fcff"/>
<path d="M549.1 153.0L555.0 150.4L549.1 145.6L543.2 148.2z" fill="#1e5bff"/>
<path d="M404.2 86.5L410.4 87.4L404.0 79.2L397.8 78.3z" fill="#a0fa08"/>
<path d="M429.0 103.5L435.1 103.8L428.9 96.1L422.8 95.9z" fill="#38fe12"/>
<path d="M441.3 111.1L447.4 111.1L441.2 103.7L435.1 103.8z" fill="#1bff3e"/>
<path d="M465.6 124.5L471.6 123.9L465.6 117.1L459.5 117.8z" fill="#39ffbc"/>
<path d="M477.7 130.3L483.7 129.4L477.6 122.9L471.6 123.9z" fill="#36ffe2"/>
<path d="M501.6 140.2L507.6 138.6L501.6 132.7L495.7 134.3z" fill="#39d4ff"/>
<path d="M537.3 150.6L543.2 148.2L537.3 143.2L531.4 145.5z" fill="#2270ff"/>
<path d="M560.9 154.9L566.9 152.1L561.0 147.5L555.0 150.4z" fill="#1c4eff"/>
<path d="M572.7 156.4L578.7 153.3L572.8 149.0L566.9 152.1z" fill="#1c46ff"/>
<path d="M596.3 158.0L602.3 154.6L596.4 150.7L590.5 154.2z" fill="#1b3cff"/>
<path d="M608.1 158.3L614.1 154.7L608.2 151.0L602.3 154.6z" fill="#1a39ff"/>
<path d="M631.7 157.9L637.7 154.2L631.8 150.7L625.9 154.6z" fill="#1a36ff"/>
<path d="M416.6 95.3L422.8 95.9L416.5 88.0L410.4 87.4z" fill="#6bfb0a"/>
<path d="M453.5 118.1L459.5 117.8L453.4 110.7L447.4 111.1z" fill="#33ff89"/>
<path d="M513.6 144.2L519.5 142.3L513.5 136.7L507.6 138.6z" fill="#2eabff"/>
<path d="M525.4 147.7L531.4 145.5L525.4 140.2L519.5 142.3z" fill="#2789ff"/>
<path d="M584.5 157.4L590.5 154.2L584.6 150.1L578.7 153.3z" fill="#1b40ff"/>
<path d="M619.9 158.2L625.9 154.6L620.0 151.0L614.1 154.7z" fill="#1a37ff"/>
<path d="M483.7 136.5L489.7 135.5L483.7 129.4L477.7 130.3z" fill="#3efbfd"/>
<path d="M555.0 157.5L560.9 154.9L555.0 150.4L549.1 153.0z" fill="#1c4bff"/>
<path d="M422.9 103.0L429.0 103.5L422.8 95.9L416.6 95.3z" fill="#43fb0c"/>
<path d="M459.6 124.9L465.6 124.5L459.5 117.8L453.5 118.1z" fill="#3affb1"/>
<path d="M495.7 141.4L501.6 140.2L495.7 134.3L489.7 135.5z" fill="#3ad9ff"/>
<path d="M543.2 155.3L549.1 153.0L543.2 148.2L537.3 150.6z" fill="#1e59ff"/>
<path d="M578.6 160.4L584.5 157.4L578.7 153.3L572.7 156.4z" fill="#1b3dff"/>
<path d="M614.0 161.7L619.9 158.2L614.1 154.7L608.1 158.3z" fill="#1a34ff"/>
<path d="M410.5 94.5L416.6 95.3L410.4 87.4L404.2 86.5z" fill="#7bf809"/>
<path d="M435.2 110.9L441.3 111.1L435.1 103.8L429.0 103.5z" fill="#22fd32"/>
<path d="M447.4 118.2L453.5 118.1L447.4 111.1L441.3 111.1z" fill="#2cff75"/>
<path d="M471.7 131.0L477.7 130.3L471.6 123.9L465.6 124.5z" fill="#36ffd8"/>
<path d="M507.6 145.8L513.6 144.2L507.6 138.6L501.6 140.2z" fill="#2fadff"/>
<path d="M519.5 149.5L525.4 147.7L519.5 142.3L513.6 144.2z" fill="#278aff"/>
<path d="M531.4 152.7L537.3 150.6L531.4 145.5L525.4 147.7z" fill="#226fff"/>
<path d="M566.8 159.1L572.7 156.4L566.9 152.1L560.9 154.9z" fill="#1b43ff"/>
<path d="M590.4 161.2L596.3 158.0L590.5 154.2L584.5 157.4z" fill="#1a38ff"/>
<path d="M602.2 161.6L608.1 158.3L602.3 154.6L596.3 158.0z" fill="#1a35ff"/>
<path d="M625.8 161.5L631.7 157.9L625.9 154.6L619.9 158.2z" fill="#1a33ff"/>
<path d="M416.8 102.1L422.9 103.0L416.6 95.3L410.5 94.5z" fill="#53f80b"/>
<path d="M453.6 125.0L459.6 124.9L453.5 118.1L447.4 118.2z" fill="#3afea4"/>
<path d="M477.7 137.3L483.7 136.5L477.7 130.3L471.7 131.0z" fill="#3bfbf3"/>
<path d="M489.7 142.5L495.7 141.4L489.7 135.5L483.7 136.5z" fill="#3ce1ff"/>
<path d="M549.1 159.8L555.0 157.5L549.1 153.0L543.2 155.3z" fill="#1b4aff"/>
<path d="M560.9 161.7L566.8 159.1L560.9 154.9L555.0 157.5z" fill="#1b41ff"/>
<path d="M584.5 164.1L590.4 161.2L584.5 157.4L578.6 160.4z" fill="#1a35ff"/>
<path d="M619.8 164.8L625.8 161.5L619.9 158.2L614.0 161.7z" fill="#1930ff"/>
<path d="M429.1 110.4L435.2 110.9L429.0 103.5L422.9 103.0z" fill="#2afa25"/>
<path d="M465.7 131.5L471.7 131.0L465.6 124.5L459.6 124.9z" fill="#36ffcd"/>
<path d="M501.7 147.1L507.6 145.8L501.6 140.2L495.7 141.4z" fill="#30b3ff"/>
<path d="M513.6 151.1L519.5 149.5L513.6 144.2L507.6 145.8z" fill="#288dff"/>
<path d="M525.4 154.5L531.4 152.7L525.4 147.7L519.5 149.5z" fill="#2270ff"/>
<path d="M537.3 157.4L543.2 155.3L537.3 150.6L531.4 152.7z" fill="#1e58ff"/>
<path d="M572.7 163.1L578.6 160.4L572.7 156.4L566.8 159.1z" fill="#1a3aff"/>
<path d="M608.0 164.9L614.0 161.7L608.1 158.3L602.2 161.6z" fill="#1931ff"/>
<path d="M441.4 118.0L447.4 118.2L441.3 111.1L435.2 110.9z" fill="#24fc5e"/>
<path d="M596.3 164.7L602.2 161.6L596.3 158.0L590.4 161.2z" fill="#1933ff"/>
<path d="M471.7 137.7L477.7 137.3L471.7 131.0L465.7 131.5z" fill="#38fbe7"/>
<path d="M566.8 165.6L572.7 163.1L566.8 159.1L560.9 161.7z" fill="#1a38ff"/>
<path d="M423.0 109.6L429.1 110.4L422.9 103.0L416.8 102.1z" fill="#33f816"/>
<path d="M447.5 124.8L453.6 125.0L447.4 118.2L441.4 118.0z" fill="#37fc92"/>
<path d="M459.7 131.6L465.7 131.5L459.6 124.9L453.6 125.0z" fill="#37fdc0"/>
<path d="M483.7 143.2L489.7 142.5L483.7 136.5L477.7 137.3z" fill="#3febff"/>
<path d="M495.7 148.1L501.7 147.1L495.7 141.4L489.7 142.5z" fill="#32bbff"/>
<path d="M507.6 152.4L513.6 151.1L507.6 145.8L501.7 147.1z" fill="#2993ff"/>
<path d="M519.5 156.1L525.4 154.5L519.5 149.5L513.6 151.1z" fill="#2272ff"/>
<path d="M531.3 159.3L537.3 157.4L531.4 152.7L525.4 154.5z" fill="#1e5aff"/>
<path d="M543.2 161.9L549.1 159.8L543.2 155.3L537.3 157.4z" fill="#1b49ff"/>
<path d="M555.0 164.0L560.9 161.7L555.0 157.5L549.1 159.8z" fill="#1a40ff"/>
<path d="M578.6 166.8L584.5 164.1L578.6 160.4L572.7 163.1z" fill="#1934ff"/>
<path d="M590.3 167.6L596.3 164.7L590.4 161.2L584.5 164.1z" fill="#1931ff"/>
<path d="M613.9 168.0L619.8 164.8L614.0 161.7L608.0 164.9z" fill="#192eff"/>
<path d="M435.3 117.5L441.4 118.0L435.2 110.9L429.1 110.4z" fill="#1bf945"/>
<path d="M602.1 167.9L608.0 164.9L602.2 161.6L596.3 164.7z" fill="#192fff"/>
<path d="M465.7 137.8L471.7 137.7L465.7 131.5L459.7 131.6z" fill="#34fbd9"/>
<path d="M572.7 169.3L578.6 166.8L572.7 163.1L566.8 165.6z" fill="#1933ff"/>
<path d="M441.4 124.3L447.5 124.8L441.4 118.0L435.3 117.5z" fill="#2df978"/>
<path d="M477.8 143.6L483.7 143.2L477.7 137.3L471.7 137.7z" fill="#3ff3fe"/>
<path d="M501.7 153.4L507.6 152.4L501.7 147.1L495.7 148.1z" fill="#2b9bff"/>
<path d="M513.6 157.4L519.5 156.1L513.6 151.1L507.6 152.4z" fill="#2377ff"/>
<path d="M525.4 160.9L531.3 159.3L525.4 154.5L519.5 156.1z" fill="#1e5dff"/>
<path d="M537.3 163.7L543.2 161.9L537.3 157.4L531.3 159.3z" fill="#1b4aff"/>
<path d="M560.9 167.9L566.8 165.6L560.9 161.7L555.0 164.0z" fill="#1a38ff"/>
<path d="M596.2 170.7L602.1 167.9L596.3 164.7L590.3 167.6z" fill="#182dff"/>
<path d="M429.2 116.7L435.3 117.5L429.1 110.4L423.0 109.6z" fill="#20f633"/>
<path d="M453.6 131.4L459.7 131.6L453.6 125.0L447.5 124.8z" fill="#38fab2"/>
<path d="M489.7 148.8L495.7 148.1L489.7 142.5L483.7 143.2z" fill="#35c6ff"/>
<path d="M549.1 166.1L555.0 164.0L549.1 159.8L543.2 161.9z" fill="#1a40ff"/>
<path d="M584.4 170.2L590.3 167.6L584.5 164.1L578.6 166.8z" fill="#1930ff"/>
<path d="M608.0 170.9L613.9 168.0L608.0 164.9L602.1 167.9z" fill="#182cff"/>
<path d="M435.4 123.5L441.4 124.3L435.3 117.5L429.2 116.7z" fill="#23f65c"/>
<path d="M459.7 137.6L465.7 137.8L459.7 131.6L453.6 131.4z" fill="#35f9ca"/>
<path d="M471.8 143.8L477.8 143.6L471.7 137.7L465.7 137.8z" fill="#3bf3f0"/>
<path d="M507.6 158.5L513.6 157.4L507.6 152.4L501.7 153.4z" fill="#247fff"/>
<path d="M519.5 162.2L525.4 160.9L519.5 156.1L513.6 157.4z" fill="#1f63ff"/>
<path d="M531.3 165.3L537.3 163.7L531.3 159.3L525.4 160.9z" fill="#1b4cff"/>
<path d="M566.7 171.5L572.7 169.3L566.8 165.6L560.9 167.9z" fill="#1932ff"/>
<path d="M578.5 172.6L584.4 170.2L578.6 166.8L572.7 169.3z" fill="#182fff"/>
<path d="M602.1 173.6L608.0 170.9L602.1 167.9L596.2 170.7z" fill="#182bff"/>
<path d="M447.6 130.9L453.6 131.4L447.5 124.8L441.4 124.3z" fill="#39f8a1"/>
<path d="M483.8 149.3L489.7 148.8L483.7 143.2L477.8 143.6z" fill="#38d3ff"/>
<path d="M495.7 154.2L501.7 153.4L495.7 148.1L489.7 148.8z" fill="#2da5ff"/>
<path d="M543.2 167.9L549.1 166.1L543.2 161.9L537.3 163.7z" fill="#1a41ff"/>
<path d="M555.0 169.9L560.9 167.9L555.0 164.0L549.1 166.1z" fill="#1938ff"/>
<path d="M590.3 173.3L596.2 170.7L590.3 167.6L584.4 170.2z" fill="#182cff"/>
<path d="M453.7 137.2L459.7 137.6L453.6 131.4L447.6 130.9z" fill="#36f6ba"/>
<path d="M513.6 163.2L519.5 162.2L513.6 157.4L507.6 158.5z" fill="#206afe"/>
<path d="M525.4 166.6L531.3 165.3L525.4 160.9L519.5 162.2z" fill="#1c51fe"/>
<path d="M584.4 175.7L590.3 173.3L584.4 170.2L578.5 172.6z" fill="#182cfd"/>
<path d="M441.5 130.1L447.6 130.9L441.4 124.3L435.4 123.5z" fill="#34f58a"/>
<path d="M465.7 143.6L471.8 143.8L465.7 137.8L459.7 137.6z" fill="#36f4e1"/>
<path d="M477.8 149.4L483.8 149.3L477.8 143.6L471.8 143.8z" fill="#3de3fd"/>
<path d="M489.8 154.6L495.7 154.2L489.7 148.8L483.8 149.3z" fill="#2fb1fd"/>
<path d="M501.7 159.2L507.6 158.5L501.7 153.4L495.7 154.2z" fill="#2789fd"/>
<path d="M537.2 169.4L543.2 167.9L537.3 163.7L531.3 165.3z" fill="#1a43ff"/>
<path d="M549.1 171.7L555.0 169.9L549.1 166.1L543.2 167.9z" fill="#1939ff"/>
<path d="M560.8 173.5L566.7 171.5L560.9 167.9L555.0 169.9z" fill="#1932ff"/>
<path d="M572.6 174.8L578.5 172.6L572.7 169.3L566.7 171.5z" fill="#182ffe"/>
<path d="M596.2 176.1L602.1 173.6L596.2 170.7L590.3 173.3z" fill="#172afc"/>
<path d="M447.6 136.4L453.7 137.2L447.6 130.9L441.5 130.1z" fill="#37f4a8"/>
<path d="M519.5 167.6L525.4 166.6L519.5 162.2L513.6 163.2z" fill="#1d58fc"/>
<path d="M590.3 178.4L596.2 176.1L590.3 173.3L584.4 175.7z" fill="#172afa"/>
<path d="M459.7 143.2L465.7 143.6L459.7 137.6L453.7 137.2z" fill="#33f4d0"/>
<path d="M483.8 154.8L489.8 154.6L483.8 149.3L477.8 149.4z" fill="#34c1fa"/>
<path d="M495.7 159.7L501.7 159.2L495.7 154.2L489.8 154.6z" fill="#2996fa"/>
<path d="M507.6 163.9L513.6 163.2L507.6 158.5L501.7 159.2z" fill="#2272fb"/>
<path d="M531.3 170.7L537.2 169.4L531.3 165.3L525.4 166.6z" fill="#1a46fc"/>
<path d="M543.2 173.3L549.1 171.7L543.2 167.9L537.2 169.4z" fill="#193cfc"/>
<path d="M555.0 175.3L560.8 173.5L555.0 169.9L549.1 171.7z" fill="#1933fc"/>
<path d="M578.5 177.8L584.4 175.7L578.5 172.6L572.6 174.8z" fill="#182cfb"/>
<path d="M471.8 149.3L477.8 149.4L471.8 143.8L465.7 143.6z" fill="#3dedf5"/>
<path d="M566.7 176.8L572.6 174.8L566.7 171.5L560.8 173.5z" fill="#182ffb"/>
<path d="M453.7 142.4L459.7 143.2L453.7 137.2L447.6 136.4z" fill="#34f2be"/>
<path d="M489.8 159.8L495.7 159.7L489.8 154.6L483.8 154.8z" fill="#2ca5f8"/>
<path d="M501.7 164.4L507.6 163.9L501.7 159.2L495.7 159.7z" fill="#247ef8"/>
<path d="M513.6 168.4L519.5 167.6L513.6 163.2L507.6 163.9z" fill="#1e61f9"/>
<path d="M525.4 171.7L531.3 170.7L525.4 166.6L519.5 167.6z" fill="#1a4af9"/>
<path d="M537.2 174.5L543.2 173.3L537.2 169.4L531.3 170.7z" fill="#193ffa"/>
<path d="M549.1 176.8L555.0 175.3L549.1 171.7L543.2 173.3z" fill="#1935fa"/>
<path d="M584.4 180.5L590.3 178.4L584.4 175.7L578.5 177.8z" fill="#172af7"/>
<path d="M465.8 148.8L471.8 149.3L465.7 143.6L459.7 143.2z" fill="#38eee4"/>
<path d="M477.8 154.7L483.8 154.8L477.8 149.4L471.8 149.3z" fill="#39d4f8"/>
<path d="M560.8 178.5L566.7 176.8L560.8 173.5L555.0 175.3z" fill="#1830f9"/>
<path d="M572.6 179.7L578.5 177.8L572.6 174.8L566.7 176.8z" fill="#172cf8"/>
<path d="M495.7 164.6L501.7 164.4L495.7 159.7L489.8 159.8z" fill="#278df5"/>
<path d="M507.6 168.8L513.6 168.4L507.6 163.9L501.7 164.4z" fill="#206cf6"/>
<path d="M531.3 175.5L537.2 174.5L531.3 170.7L525.4 171.7z" fill="#1943f7"/>
<path d="M543.2 178.0L549.1 176.8L543.2 173.3L537.2 174.5z" fill="#1939f7"/>
<path d="M459.7 148.1L465.8 148.8L459.7 143.2L453.7 142.4z" fill="#32efd1"/>
<path d="M471.8 154.2L477.8 154.7L471.8 149.3L465.8 148.8z" fill="#3de7f5"/>
<path d="M483.8 159.7L489.8 159.8L483.8 154.8L477.8 154.7z" fill="#31b7f5"/>
<path d="M519.5 172.5L525.4 171.7L519.5 167.6L513.6 168.4z" fill="#1c52f6"/>
<path d="M555.0 180.0L560.8 178.5L555.0 175.3L549.1 176.8z" fill="#1831f7"/>
<path d="M566.7 181.4L572.6 179.7L566.7 176.8L560.8 178.5z" fill="#172ef6"/>
<path d="M578.5 182.4L584.4 180.5L578.5 177.8L572.6 179.7z" fill="#172bf5"/>
<path d="M501.7 169.0L507.6 168.8L501.7 164.4L495.7 164.6z" fill="#2379f3"/>
<path d="M537.2 179.0L543.2 178.0L537.2 174.5L531.3 175.5z" fill="#193df4"/>
<path d="M465.8 153.5L471.8 154.2L465.8 148.8L459.7 148.1z" fill="#37e8e2"/>
<path d="M477.8 159.3L483.8 159.7L477.8 154.7L471.8 154.2z" fill="#36cbf3"/>
<path d="M489.8 164.5L495.7 164.6L489.8 159.8L483.8 159.7z" fill="#2b9ef3"/>
<path d="M513.6 173.0L519.5 172.5L513.6 168.4L507.6 168.8z" fill="#1d5df4"/>
<path d="M525.4 176.3L531.3 175.5L525.4 171.7L519.5 172.5z" fill="#1a48f4"/>
<path d="M549.1 181.2L555.0 180.0L549.1 176.8L543.2 178.0z" fill="#1834f4"/>
<path d="M560.9 182.9L566.7 181.4L560.8 178.5L555.0 180.0z" fill="#172ff4"/>
<path d="M572.6 184.0L578.5 182.4L572.6 179.7L566.7 181.4z" fill="#172cf3"/>
<path d="M471.8 158.6L477.8 159.3L471.8 154.2L465.8 153.5z" fill="#3ce2f1"/>
<path d="M483.8 164.1L489.8 164.5L483.8 159.7L477.8 159.3z" fill="#30b2f0"/>
<path d="M495.7 168.9L501.7 169.0L495.7 164.6L489.8 164.5z" fill="#268af0"/>
<path d="M507.6 173.2L513.6 173.0L507.6 168.8L501.7 169.0z" fill="#1f6af1"/>
<path d="M519.5 176.8L525.4 176.3L519.5 172.5L513.6 173.0z" fill="#1b51f1"/>
<path d="M531.3 179.8L537.2 179.0L531.3 175.5L525.4 176.3z" fill="#1942f1"/>
<path d="M543.2 182.2L549.1 181.2L543.2 178.0L537.2 179.0z" fill="#1839f1"/>
<path d="M555.0 184.1L560.9 182.9L555.0 180.0L549.1 181.2z" fill="#1831f2"/>
<path d="M566.8 185.4L572.6 184.0L566.7 181.4L560.9 182.9z" fill="#172df1"/>
<path d="M477.8 163.4L483.8 164.1L477.8 159.3L471.8 158.6z" fill="#36c9ee"/>
<path d="M489.8 168.5L495.7 168.9L489.8 164.5L483.8 164.1z" fill="#2a9ded"/>
<path d="M513.6 177.0L519.5 176.8L513.6 173.0L507.6 173.2z" fill="#1d5eee"/>
<path d="M525.4 180.2L531.3 179.8L525.4 176.3L519.5 176.8z" fill="#1948ee"/>
<path d="M549.1 185.0L555.0 184.1L549.1 181.2L543.2 182.2z" fill="#1835ef"/>
<path d="M560.9 186.6L566.8 185.4L560.9 182.9L555.0 184.1z" fill="#1730ee"/>
<path d="M501.7 173.1L507.6 173.2L501.7 169.0L495.7 168.9z" fill="#2279ee"/>
<path d="M537.3 182.9L543.2 182.2L537.2 179.0L531.3 179.8z" fill="#183eef"/>
<path d="M483.8 167.8L489.8 168.5L483.8 164.1L477.8 163.4z" fill="#30b3eb"/>
<path d="M495.7 172.7L501.7 173.1L495.7 168.9L489.8 168.5z" fill="#268ceb"/>
<path d="M507.6 176.9L513.6 177.0L507.6 173.2L501.7 173.1z" fill="#206ceb"/>
<path d="M519.5 180.4L525.4 180.2L519.5 176.8L513.6 177.0z" fill="#1b54eb"/>
<path d="M531.3 183.4L537.3 182.9L531.3 179.8L525.4 180.2z" fill="#1944ec"/>
<path d="M543.2 185.7L549.1 185.0L543.2 182.2L537.3 182.9z" fill="#183bec"/>
<path d="M555.0 187.5L560.9 186.6L555.0 184.1L549.1 185.0z" fill="#1734ec"/>
<path d="M489.7 172.0L495.7 172.7L489.8 168.5L483.8 167.8z" fill="#2ba0e8"/>
<path d="M501.7 176.5L507.6 176.9L501.7 173.1L495.7 172.7z" fill="#237ee8"/>
<path d="M513.6 180.3L519.5 180.4L513.6 177.0L507.6 176.9z" fill="#1e62e9"/>
<path d="M525.4 183.6L531.3 183.4L525.4 180.2L519.5 180.4z" fill="#1a4de9"/>
<path d="M537.3 186.2L543.2 185.7L537.3 182.9L531.3 183.4z" fill="#1841e9"/>
<path d="M549.1 188.2L555.0 187.5L549.1 185.0L543.2 185.7z" fill="#1839e9"/>
<path d="M495.7 175.8L501.7 176.5L495.7 172.7L489.7 172.0z" fill="#2892e5"/>
<path d="M507.6 180.0L513.6 180.3L507.6 176.9L501.7 176.5z" fill="#2172e6"/>
<path d="M519.5 183.5L525.4 183.6L519.5 180.4L513.6 180.3z" fill="#1c5be6"/>
<path d="M531.4 186.4L537.3 186.2L531.3 183.4L525.4 183.6z" fill="#1949e6"/>
<path d="M543.2 188.6L549.1 188.2L543.2 185.7L537.3 186.2z" fill="#183fe6"/>
<path d="M501.7 179.3L507.6 180.0L501.7 176.5L495.7 175.8z" fill="#2587e3"/>
<path d="M537.3 188.8L543.2 188.6L537.3 186.2L531.4 186.4z" fill="#1846e3"/>
<path d="M513.6 183.1L519.5 183.5L513.6 180.3L507.6 180.0z" fill="#1f6be3"/>
<path d="M525.4 186.3L531.4 186.4L525.4 183.6L519.5 183.5z" fill="#1b57e3"/>
<path d="M507.6 182.5L513.6 183.1L507.6 180.0L501.7 179.3z" fill="#237ee0"/>
<path d="M519.5 185.9L525.4 186.3L519.5 183.5L513.6 183.1z" fill="#1e66e0"/>
<path d="M531.4 188.7L537.3 188.8L531.4 186.4L525.4 186.3z" fill="#1b54e0"/>
<path d="M513.6 185.3L519.5 185.9L513.6 183.1L507.6 182.5z" fill="#2279dd"/>
<path d="M525.4 188.4L531.4 188.7L525.4 186.3L519.5 185.9z" fill="#1d63dd"/>
<path d="M519.5 187.8L525.4 188.4L519.5 185.9L513.6 185.3z" fill="#2175da"/>
</g>
<rect x="517.3" y="135.3" width="4.4" height="6.8" rx="2.1" ry="2.4" fill="#c41616" stroke="#6e0a0a" stroke-width="0.6"/>
<circle cx="401.6" cy="159.9" r="1.1" fill="#111"/>
<circle cx="400.5" cy="136.3" r="1.1" fill="#111"/>
<circle cx="399.4" cy="112.4" r="1.1" fill="#111"/>
<circle cx="398.3" cy="88.3" r="1.1" fill="#111"/>
<circle cx="397.2" cy="63.9" r="1.1" fill="#111"/>
<circle cx="396.0" cy="39.3" r="1.1" fill="#111"/>
<circle cx="519.5" cy="254.1" r="1.1" fill="#111"/>
<circle cx="542.7" cy="243.0" r="1.1" fill="#111"/>
<circle cx="566.0" cy="231.9" r="1.1" fill="#111"/>
<circle cx="589.2" cy="220.8" r="1.1" fill="#111"/>
<circle cx="612.4" cy="209.7" r="1.1" fill="#111"/>
<circle cx="635.6" cy="198.6" r="1.1" fill="#111"/>
<circle cx="519.5" cy="254.1" r="1.1" fill="#111"/>
<circle cx="496.3" cy="243.0" r="1.1" fill="#111"/>
<circle cx="473.0" cy="231.9" r="1.1" fill="#111"/>
<circle cx="449.8" cy="220.8" r="1.1" fill="#111"/>
<circle cx="426.6" cy="209.7" r="1.1" fill="#111"/>
<circle cx="403.4" cy="198.6" r="1.1" fill="#111"/>
<polygon points="351.5,523.0 477.1,467.0 351.5,423.4 225.9,467.0" fill="#626262" stroke="#151515" stroke-width="0.9"/>
<polyline points="244.6,475.3 245.6,474.5 246.5,473.7 246.9,473.4 247.5,472.8 248.5,472.0 249.5,471.2 249.6,471.1 250.6,470.4 251.6,469.6 252.7,468.8 252.8,468.7 253.8,468.0 254.8,467.3 256.0,466.5 256.5,466.2 257.1,465.8 258.2,465.0 259.4,464.3 260.5,463.5 260.7,463.4 261.7,462.8 262.9,462.1 264.1,461.4 265.3,460.7 265.7,460.4 266.5,460.0 267.7,459.3 269.0,458.6 270.3,457.9 271.5,457.2 271.8,457.0 272.8,456.5 274.1,455.9 275.4,455.2 276.7,454.5 278.0,453.9 279.3,453.2 279.7,453.1 280.7,452.6 282.0,451.9 283.4,451.3 284.8,450.7 286.2,450.0 287.5,449.4 288.9,448.8 290.3,448.2 290.9,447.9 291.8,447.6 293.2,447.0 294.6,446.4 296.1,445.8 297.5,445.2 299.0,444.6 300.4,444.0 301.9,443.4 303.4,442.8 304.9,442.2 306.4,441.6 307.9,441.1 309.4,440.5 310.9,439.9 312.5,439.4 314.0,438.8 315.6,438.3 317.1,437.7 318.7,437.1 320.3,436.6 321.8,436.1 323.4,435.5 325.0,435.0 326.6,434.4 328.2,433.9 329.9,433.4 331.5,432.8 333.1,432.3 334.8,431.8 336.4,431.3 338.1,430.7 339.7,430.2 341.4,429.7 343.1,429.2 344.8,428.7 346.4,428.2 348.1,427.7 349.9,427.2 350.9,426.9 351.6,426.7 353.3,426.2 355.0,425.7 356.8,425.2" fill="none" stroke="#45d309" stroke-width="1.5" stroke-linecap="round"/>
<polyline points="262.5,483.3 262.9,482.8 263.2,482.3 264.0,481.4 264.4,480.9 264.8,480.5 265.6,479.5 266.1,479.0 266.4,478.6 267.3,477.7 268.0,477.0 268.2,476.9 269.1,476.0 270.0,475.1 270.2,474.9 271.0,474.3 271.9,473.4 272.7,472.7 272.9,472.6 273.9,471.8 274.9,471.0 275.6,470.4 276.0,470.2 277.0,469.4 278.1,468.6 279.0,467.9 279.2,467.8 280.3,467.0 281.4,466.3 282.6,465.5 283.0,465.2 283.7,464.7 284.9,464.0 286.1,463.3 287.3,462.5 287.7,462.3 288.5,461.8 289.7,461.1 290.9,460.4 292.2,459.7 293.4,459.0 293.5,458.9 294.7,458.3 296.0,457.6 297.3,456.9 298.6,456.3 299.9,455.6 301.2,455.0 301.3,454.9 302.6,454.3 304.0,453.6 305.3,453.0 306.7,452.3 308.1,451.7 309.5,451.0 310.9,450.4 312.3,449.8 312.6,449.6 313.7,449.2 315.2,448.5 316.6,447.9 318.1,447.3 319.5,446.7 321.0,446.1 322.5,445.5 324.0,444.9 325.5,444.3 327.0,443.7 328.5,443.1 330.0,442.6 331.6,442.0 333.1,441.4 334.7,440.8 336.3,440.3 337.8,439.7 339.4,439.2 341.0,438.6 342.6,438.0 344.2,437.5 345.8,436.9 347.4,436.4 349.1,435.9 350.7,435.3 352.4,434.8 354.0,434.2 355.7,433.7 357.4,433.2 359.1,432.7 360.8,432.1 362.5,431.6 363.1,431.4 364.2,431.1 365.9,430.6 367.6,430.1 369.3,429.6" fill="none" stroke="#1bd446" stroke-width="1.5" stroke-linecap="round"/>
<polyline points="291.5,496.2 291.5,495.2 291.6,494.9 291.7,493.8 291.7,493.7 291.9,492.5 291.9,492.4 292.2,491.3 292.3,491.0 292.5,490.1 292.7,489.5 292.9,489.0 293.4,487.9 293.4,487.9 293.9,486.8 294.1,486.3 294.4,485.7 295.0,484.7 295.0,484.7 295.6,483.7 296.1,483.0 296.3,482.7 297.0,481.7 297.4,481.2 297.7,480.7 298.5,479.8 298.9,479.3 299.3,478.8 300.1,477.9 300.6,477.4 301.0,477.0 301.8,476.1 302.6,475.4 302.8,475.2 303.7,474.4 304.6,473.5 305.0,473.2 305.6,472.7 306.6,471.8 307.6,471.0 307.8,470.9 308.7,470.2 309.7,469.4 310.8,468.6 311.1,468.4 311.9,467.8 313.0,467.0 314.2,466.2 315.1,465.6 315.3,465.5 316.5,464.7 317.7,464.0 318.9,463.2 320.0,462.5 320.1,462.5 321.3,461.8 322.6,461.0 323.8,460.3 325.1,459.6 326.4,458.9 326.4,458.9 327.7,458.2 329.0,457.5 330.4,456.9 331.7,456.2 333.1,455.5 334.4,454.8 335.8,454.2 335.8,454.2 337.2,453.5 338.6,452.9 340.0,452.2 341.5,451.6 342.9,451.0 344.4,450.3 345.8,449.7 347.3,449.1 348.8,448.5 350.3,447.8 351.8,447.2 353.3,446.6 354.9,446.0 356.4,445.4 358.0,444.8 359.5,444.3 361.1,443.7 362.7,443.1 364.3,442.5 365.9,441.9 367.5,441.4 369.1,440.8 370.7,440.2 372.4,439.7 374.0,439.1 375.7,438.6 377.4,438.0 379.1,437.5 380.7,436.9 382.4,436.4 384.2,435.8 385.9,435.3" fill="none" stroke="#2cd5b7" stroke-width="1.5" stroke-linecap="round"/>
<polyline points="364.6,517.2 362.6,516.7 361.9,516.5 360.7,516.1 358.9,515.6 357.1,515.0 355.4,514.4 353.7,513.7 352.0,513.1 350.4,512.4 348.9,511.7 347.4,511.0 345.9,510.3 344.5,509.5 343.2,508.7 341.9,507.9 341.3,507.5 340.7,507.1 339.5,506.2 338.4,505.3 337.4,504.4 337.4,504.4 336.4,503.5 335.5,502.5 335.2,502.1 334.7,501.5 333.9,500.5 333.6,500.1 333.2,499.5 332.6,498.4 332.5,498.3 332.1,497.3 331.8,496.6 331.6,496.1 331.3,495.1 331.2,495.0 331.0,493.8 330.9,493.6 330.8,492.5 330.8,492.3 330.7,491.2 330.7,490.9 330.8,489.9 330.8,489.7 331.0,488.5 331.0,488.4 331.2,487.2 331.3,487.1 331.6,486.1 331.7,485.6 332.0,485.0 332.3,484.1 332.4,483.9 333.0,482.8 333.1,482.5 333.5,481.7 334.1,480.8 334.2,480.7 334.8,479.7 335.3,479.0 335.6,478.7 336.3,477.8 336.8,477.2 337.1,476.8 337.9,475.9 338.6,475.2 338.8,475.0 339.7,474.1 340.6,473.2 340.8,473.1 341.6,472.4 342.6,471.5 343.4,470.8 343.6,470.7 344.6,469.8 345.7,469.0 346.6,468.3 346.7,468.2 347.9,467.4 349.0,466.6 350.1,465.8 350.7,465.5 351.3,465.1 352.5,464.3 353.7,463.5 354.9,462.8 356.0,462.2 356.2,462.1 357.4,461.3 358.7,460.6 360.0,459.9 361.3,459.2 362.7,458.5 363.7,457.9 364.0,457.8 365.4,457.1 366.8,456.4 368.2,455.7 369.6,455.1 371.0,454.4 372.4,453.7 373.9,453.1 375.4,452.4 376.8,451.8 378.3,451.2 379.8,450.5 381.4,449.9 381.7,449.7 382.9,449.3 384.4,448.7 386.0,448.0 387.6,447.4 389.1,446.8 390.7,446.2 392.0,445.8 392.3,445.6 394.0,445.0 395.6,444.5 397.2,443.9 398.9,443.3 400.6,442.7 402.2,442.1 403.9,441.6" fill="none" stroke="#2485d8" stroke-width="1.5" stroke-linecap="round"/>
<polyline points="406.4,498.5 404.7,498.0 403.0,497.4 401.4,496.8 399.9,496.1 398.4,495.4 397.0,494.7 396.9,494.6 395.7,494.0 394.5,493.2 393.3,492.4 392.3,491.5 392.1,491.4 391.3,490.6 390.4,489.7 390.1,489.3 389.6,488.7 389.0,487.7 388.9,487.5 388.4,486.7 388.1,485.9 388.0,485.5 387.7,484.5 387.7,484.4 387.6,483.2 387.6,483.1 387.6,481.9 387.6,481.8 387.7,480.6 387.8,480.5 388.0,479.4 388.2,479.1 388.4,478.3 388.8,477.5 388.9,477.2 389.5,476.2 389.7,475.9 390.1,475.2 390.8,474.2 390.9,474.1 391.6,473.2 392.4,472.3 392.5,472.2 393.3,471.4 394.2,470.5 394.6,470.1 395.1,469.6 396.1,468.7 397.1,467.9 397.3,467.7 398.2,467.0 399.3,466.2 400.4,465.4 401.1,464.9 401.6,464.6 402.8,463.8 404.0,463.0 405.2,462.3 406.5,461.5 406.7,461.4 407.8,460.8 409.1,460.0 410.5,459.3 411.8,458.6 413.2,457.9 414.6,457.2 416.0,456.5 417.5,455.8 417.5,455.8 418.9,455.1 420.4,454.4 421.9,453.8 423.4,453.1 424.9,452.4 426.5,451.8 428.1,451.1 429.6,450.5" fill="none" stroke="#152bd8" stroke-width="1.5" stroke-linecap="round"/>
<path d="M217.5,307.9L223.9,428.6 M251.0,301.0L255.8,418.6 M284.5,294.1L287.7,408.6 M318.0,287.2L319.6,398.6 M351.5,280.3L351.5,388.6 M485.5,307.9L479.1,428.6 M458.7,302.4L453.6,420.6 M431.9,296.8L428.1,412.6 M405.1,291.3L402.6,404.6 M378.3,285.8L377.0,396.6 M351.5,280.3L351.5,388.6 M223.9,428.6L351.5,388.6 M351.5,388.6L479.1,428.6 M222.9,408.9L351.5,371.0 M351.5,371.0L480.2,408.9 M221.8,389.0L351.5,353.1 M351.5,353.1L481.2,389.0 M220.8,369.0L351.5,335.1 M351.5,335.1L482.3,369.0 M219.7,348.8L351.5,317.0 M351.5,317.0L483.3,348.8 M218.6,328.4L351.5,298.7 M351.5,298.7L484.4,328.4 M217.5,307.9L351.5,280.3 M351.5,280.3L485.5,307.9 M223.9,428.6L225.9,467.0 M479.1,428.6L477.1,467.0 M351.5,388.6L351.5,423.4" fill="none" stroke="#303030" stroke-width="0.9"/>
<g stroke="#0c1820" stroke-width="0.62" stroke-linejoin="round">
<path d="M351.5 326.4L358.1 324.3L351.5 317.2L344.9 319.3z" fill="#68ff0b"/>
<path d="M344.9 328.5L351.5 326.4L344.9 319.3L338.3 321.4z" fill="#63ff0b"/>
<path d="M358.1 333.3L364.6 331.1L358.1 324.3L351.5 326.4z" fill="#38ff18"/>
<path d="M338.4 330.5L344.9 328.5L338.3 321.4L331.8 323.3z" fill="#5fff0c"/>
<path d="M364.6 340.0L371.1 337.8L364.6 331.1L358.1 333.3z" fill="#1bff43"/>
<path d="M351.5 335.4L358.1 333.3L351.5 326.4L344.9 328.5z" fill="#36ff1c"/>
<path d="M331.8 332.3L338.4 330.5L331.8 323.3L325.2 325.2z" fill="#5cff0c"/>
<path d="M345.0 337.4L351.5 335.4L344.9 328.5L338.4 330.5z" fill="#33ff1f"/>
<path d="M358.1 342.1L364.6 340.0L358.1 333.3L351.5 335.4z" fill="#1dff4a"/>
<path d="M371.1 346.5L377.6 344.3L371.1 337.8L364.6 340.0z" fill="#36ff90"/>
<path d="M351.5 344.2L358.1 342.1L351.5 335.4L345.0 337.4z" fill="#1fff4f"/>
<path d="M325.2 334.1L331.8 332.3L325.2 325.2L318.6 326.9z" fill="#5aff0c"/>
<path d="M338.4 339.3L345.0 337.4L338.4 330.5L331.8 332.3z" fill="#32ff21"/>
<path d="M364.6 348.6L371.1 346.5L364.6 340.0L358.1 342.1z" fill="#38ff96"/>
<path d="M377.6 352.8L384.1 350.5L377.6 344.3L371.1 346.5z" fill="#3cffc4"/>
<path d="M318.7 335.8L325.2 334.1L318.6 326.9L312.0 328.5z" fill="#59ff0c"/>
<path d="M345.0 346.1L351.5 344.2L345.0 337.4L338.4 339.3z" fill="#20ff52"/>
<path d="M358.0 350.7L364.6 348.6L358.1 342.1L351.5 344.2z" fill="#3aff9a"/>
<path d="M384.0 358.8L390.6 356.6L384.1 350.5L377.6 352.8z" fill="#38ffeb"/>
<path d="M331.9 341.1L338.4 339.3L331.8 332.3L325.2 334.1z" fill="#31ff22"/>
<path d="M371.1 354.9L377.6 352.8L371.1 346.5L364.6 348.6z" fill="#3cffc7"/>
<path d="M312.1 337.3L318.7 335.8L312.0 328.5L305.4 330.1z" fill="#59ff0c"/>
<path d="M325.3 342.8L331.9 341.1L325.2 334.1L318.7 335.8z" fill="#31ff22"/>
<path d="M338.4 347.9L345.0 346.1L338.4 339.3L331.9 341.1z" fill="#21ff53"/>
<path d="M351.5 352.6L358.0 350.7L351.5 344.2L345.0 346.1z" fill="#3aff9c"/>
<path d="M364.5 357.0L371.1 354.9L364.6 348.6L358.0 350.7z" fill="#3bffc8"/>
<path d="M377.5 361.0L384.0 358.8L377.6 352.8L371.1 354.9z" fill="#39ffed"/>
<path d="M390.5 364.7L397.0 362.4L390.6 356.6L384.0 358.8z" fill="#44ffff"/>
<path d="M305.5 338.8L312.1 337.3L305.4 330.1L298.8 331.5z" fill="#5aff0c"/>
<path d="M331.9 349.5L338.4 347.9L331.9 341.1L325.3 342.8z" fill="#20ff53"/>
<path d="M371.0 363.0L377.5 361.0L371.1 354.9L364.5 357.0z" fill="#39ffee"/>
<path d="M396.9 370.3L403.4 368.0L397.0 362.4L390.5 364.7z" fill="#37cfff"/>
<path d="M318.7 344.3L325.3 342.8L318.7 335.8L312.1 337.3z" fill="#31ff22"/>
<path d="M345.0 354.4L351.5 352.6L345.0 346.1L338.4 347.9z" fill="#3bff9c"/>
<path d="M358.0 358.9L364.5 357.0L358.0 350.7L351.5 352.6z" fill="#3bffc9"/>
<path d="M384.0 366.8L390.5 364.7L384.0 358.8L377.5 361.0z" fill="#44ffff"/>
<path d="M298.9 340.1L305.5 338.8L298.8 331.5L292.2 332.8z" fill="#5cff0b"/>
<path d="M312.2 345.8L318.7 344.3L312.1 337.3L305.5 338.8z" fill="#32ff20"/>
<path d="M325.3 351.1L331.9 349.5L325.3 342.8L318.7 344.3z" fill="#20ff51"/>
<path d="M338.5 356.1L345.0 354.4L338.4 347.9L331.9 349.5z" fill="#3aff9b"/>
<path d="M364.5 365.0L371.0 363.0L364.5 357.0L358.0 358.9z" fill="#39ffee"/>
<path d="M377.5 368.9L384.0 366.8L377.5 361.0L371.0 363.0z" fill="#45ffff"/>
<path d="M390.4 372.5L396.9 370.3L390.5 364.7L384.0 366.8z" fill="#36ccff"/>
<path d="M403.3 375.7L409.8 373.4L403.4 368.0L396.9 370.3z" fill="#2c9eff"/>
<path d="M351.5 360.7L358.0 358.9L351.5 352.6L345.0 354.4z" fill="#3bffc8"/>
<path d="M318.8 352.6L325.3 351.1L318.7 344.3L312.2 345.8z" fill="#1eff4d"/>
<path d="M383.9 374.5L390.4 372.5L384.0 366.8L377.5 368.9z" fill="#36c9ff"/>
<path d="M292.4 341.3L298.9 340.1L292.2 332.8L285.6 334.0z" fill="#5fff0b"/>
<path d="M305.6 347.1L312.2 345.8L305.5 338.8L298.9 340.1z" fill="#33ff1e"/>
<path d="M331.9 357.7L338.5 356.1L331.9 349.5L325.3 351.1z" fill="#39ff98"/>
<path d="M345.0 362.4L351.5 360.7L345.0 354.4L338.5 356.1z" fill="#3bffc7"/>
<path d="M358.0 366.8L364.5 365.0L358.0 358.9L351.5 360.7z" fill="#39ffed"/>
<path d="M371.0 370.8L377.5 368.9L371.0 363.0L364.5 365.0z" fill="#44ffff"/>
<path d="M396.8 377.8L403.3 375.7L396.9 370.3L390.4 372.5z" fill="#2b9bff"/>
<path d="M409.7 380.9L416.2 378.6L409.8 373.4L403.3 375.7z" fill="#2374ff"/>
<path d="M312.3 353.9L318.8 352.6L312.2 345.8L305.6 347.1z" fill="#1dff48"/>
<path d="M325.4 359.1L331.9 357.7L325.3 351.1L318.8 352.6z" fill="#38ff94"/>
<path d="M351.5 368.5L358.0 366.8L351.5 360.7L345.0 362.4z" fill="#38ffeb"/>
<path d="M377.4 376.4L383.9 374.5L377.5 368.9L371.0 370.8z" fill="#36c9ff"/>
<path d="M390.4 379.9L396.8 377.8L390.4 372.5L383.9 374.5z" fill="#2b9aff"/>
<path d="M285.8 342.4L292.4 341.3L285.6 334.0L279.0 335.1z" fill="#63ff0b"/>
<path d="M416.1 385.8L422.5 383.6L416.2 378.6L409.7 380.9z" fill="#1d53ff"/>
<path d="M299.0 348.3L305.6 347.1L298.9 340.1L292.4 341.3z" fill="#35ff1a"/>
<path d="M338.5 364.0L345.0 362.4L338.5 356.1L331.9 357.7z" fill="#3affc5"/>
<path d="M364.5 372.6L371.0 370.8L364.5 365.0L358.0 366.8z" fill="#44ffff"/>
<path d="M403.2 383.0L409.7 380.9L403.3 375.7L396.8 377.8z" fill="#2373ff"/>
<path d="M279.2 343.4L285.8 342.4L279.0 335.1L272.4 336.1z" fill="#68ff0b"/>
<path d="M305.7 355.1L312.3 353.9L305.6 347.1L299.0 348.3z" fill="#1bff42"/>
<path d="M318.9 360.5L325.4 359.1L318.8 352.6L312.3 353.9z" fill="#35ff8e"/>
<path d="M332.0 365.5L338.5 364.0L331.9 357.7L325.4 359.1z" fill="#3bffc1"/>
<path d="M345.0 370.1L351.5 368.5L345.0 362.4L338.5 364.0z" fill="#38ffe8"/>
<path d="M358.0 374.3L364.5 372.6L358.0 366.8L351.5 368.5z" fill="#43feff"/>
<path d="M371.0 378.2L377.4 376.4L371.0 370.8L364.5 372.6z" fill="#36c9ff"/>
<path d="M383.9 381.8L390.4 379.9L383.9 374.5L377.4 376.4z" fill="#2b9aff"/>
<path d="M396.8 385.0L403.2 383.0L396.8 377.8L390.4 379.9z" fill="#2272ff"/>
<path d="M422.4 390.5L428.9 388.3L422.5 383.6L416.1 385.8z" fill="#1b41ff"/>
<path d="M292.5 349.4L299.0 348.3L292.4 341.3L285.8 342.4z" fill="#37ff16"/>
<path d="M409.6 387.9L416.1 385.8L409.7 380.9L403.2 383.0z" fill="#1d52ff"/>
<path d="M338.5 371.5L345.0 370.1L338.5 364.0L332.0 365.5z" fill="#37ffe5"/>
<path d="M364.5 379.9L371.0 378.2L364.5 372.6L358.0 374.3z" fill="#36ccff"/>
<path d="M272.6 344.2L279.2 343.4L272.4 336.1L265.8 336.9z" fill="#6eff0a"/>
<path d="M299.1 356.3L305.7 355.1L299.0 348.3L292.5 349.4z" fill="#1dff3d"/>
<path d="M403.2 389.9L409.6 387.9L403.2 383.0L396.8 385.0z" fill="#1d53ff"/>
<path d="M428.8 395.0L435.2 392.8L428.9 388.3L422.4 390.5z" fill="#1934ff"/>
<path d="M285.9 350.4L292.5 349.4L285.8 342.4L279.2 343.4z" fill="#3aff11"/>
<path d="M312.3 361.7L318.9 360.5L312.3 353.9L305.7 355.1z" fill="#33ff86"/>
<path d="M325.4 366.8L332.0 365.5L325.4 359.1L318.9 360.5z" fill="#3bffbd"/>
<path d="M351.5 375.9L358.0 374.3L351.5 368.5L345.0 370.1z" fill="#42feff"/>
<path d="M377.4 383.6L383.9 381.8L377.4 376.4L371.0 378.2z" fill="#2b9bff"/>
<path d="M390.3 386.9L396.8 385.0L390.4 379.9L383.9 381.8z" fill="#2373ff"/>
<path d="M416.0 392.6L422.4 390.5L416.1 385.8L409.6 387.9z" fill="#1b41ff"/>
<path d="M266.0 345.0L272.6 344.2L265.8 336.9L259.2 337.7z" fill="#75ff0a"/>
<path d="M292.6 357.2L299.1 356.3L292.5 349.4L285.9 350.4z" fill="#21ff38"/>
<path d="M332.0 372.9L338.5 371.5L332.0 365.5L325.4 366.8z" fill="#37ffe0"/>
<path d="M345.0 377.4L351.5 375.9L345.0 370.1L338.5 371.5z" fill="#41feff"/>
<path d="M358.0 381.5L364.5 379.9L358.0 374.3L351.5 375.9z" fill="#37cfff"/>
<path d="M370.9 385.3L377.4 383.6L371.0 378.2L364.5 379.9z" fill="#2c9eff"/>
<path d="M409.6 394.6L416.0 392.6L409.6 387.9L403.2 389.9z" fill="#1b41ff"/>
<path d="M435.2 399.2L441.6 397.0L435.2 392.8L428.8 395.0z" fill="#182cff"/>
<path d="M279.3 351.3L285.9 350.4L279.2 343.4L272.6 344.2z" fill="#3fff0d"/>
<path d="M305.8 362.8L312.3 361.7L305.7 355.1L299.1 356.3z" fill="#2fff7d"/>
<path d="M396.7 391.8L403.2 389.9L396.8 385.0L390.3 386.9z" fill="#1d54ff"/>
<path d="M422.4 397.0L428.8 395.0L422.4 390.5L416.0 392.6z" fill="#1934ff"/>
<path d="M318.9 368.0L325.4 366.8L318.9 360.5L312.3 361.7z" fill="#3bffb8"/>
<path d="M383.8 388.7L390.3 386.9L383.9 381.8L377.4 383.6z" fill="#2375ff"/>
<path d="M351.5 383.0L358.0 381.5L351.5 375.9L345.0 377.4z" fill="#39d5ff"/>
<path d="M286.0 358.1L292.6 357.2L285.9 350.4L279.3 351.3z" fill="#25ff31"/>
<path d="M415.9 399.0L422.4 397.0L416.0 392.6L409.6 394.6z" fill="#1934ff"/>
<path d="M259.3 345.6L266.0 345.0L259.2 337.7L252.5 338.3z" fill="#7dff09"/>
<path d="M272.7 352.0L279.3 351.3L272.6 344.2L266.0 345.0z" fill="#46ff0c"/>
<path d="M299.2 363.8L305.8 362.8L299.1 356.3L292.6 357.2z" fill="#2bff72"/>
<path d="M325.5 374.1L332.0 372.9L325.4 366.8L318.9 368.0z" fill="#37ffda"/>
<path d="M338.5 378.7L345.0 377.4L338.5 371.5L332.0 372.9z" fill="#3ffeff"/>
<path d="M364.5 386.8L370.9 385.3L364.5 379.9L358.0 381.5z" fill="#2ca2ff"/>
<path d="M377.4 390.4L383.8 388.7L377.4 383.6L370.9 385.3z" fill="#2378ff"/>
<path d="M403.1 396.4L409.6 394.6L403.2 389.9L396.7 391.8z" fill="#1b42ff"/>
<path d="M428.7 401.2L435.2 399.2L428.8 395.0L422.4 397.0z" fill="#182cff"/>
<path d="M441.5 403.2L447.9 401.0L441.6 397.0L435.2 399.2z" fill="#1725ff"/>
<path d="M312.4 369.1L318.9 368.0L312.3 361.7L305.8 362.8z" fill="#3bffb1"/>
<path d="M390.3 393.6L396.7 391.8L390.3 386.9L383.8 388.7z" fill="#1d56ff"/>
<path d="M279.4 358.8L286.0 358.1L279.3 351.3L272.7 352.0z" fill="#29ff2a"/>
<path d="M345.0 384.3L351.5 383.0L345.0 377.4L338.5 378.7z" fill="#3bdbff"/>
<path d="M358.0 388.3L364.5 386.8L358.0 381.5L351.5 383.0z" fill="#2ea8ff"/>
<path d="M422.3 403.1L428.7 401.2L422.4 397.0L415.9 399.0z" fill="#182cff"/>
<path d="M252.7 346.0L259.3 345.6L252.5 338.3L245.9 338.8z" fill="#85ff09"/>
<path d="M292.7 364.7L299.2 363.8L292.6 357.2L286.0 358.1z" fill="#27ff66"/>
<path d="M319.0 375.2L325.5 374.1L318.9 368.0L312.4 369.1z" fill="#37ffd3"/>
<path d="M383.8 395.2L390.3 393.6L383.8 388.7L377.4 390.4z" fill="#1e5aff"/>
<path d="M409.5 400.8L415.9 399.0L409.6 394.6L403.1 396.4z" fill="#1935ff"/>
<path d="M447.9 406.9L454.3 404.8L447.9 401.0L441.5 403.2z" fill="#1622fa"/>
<path d="M266.1 352.6L272.7 352.0L266.0 345.0L259.3 345.6z" fill="#4fff0c"/>
<path d="M305.8 370.1L312.4 369.1L305.8 362.8L299.2 363.8z" fill="#3cffaa"/>
<path d="M332.0 379.9L338.5 378.7L332.0 372.9L325.5 374.1z" fill="#3dfef9"/>
<path d="M370.9 391.9L377.4 390.4L370.9 385.3L364.5 386.8z" fill="#247bff"/>
<path d="M396.7 398.2L403.1 396.4L396.7 391.8L390.3 393.6z" fill="#1b44ff"/>
<path d="M435.1 405.2L441.5 403.2L435.2 399.2L428.7 401.2z" fill="#1725fe"/>
<path d="M246.1 346.4L252.7 346.0L245.9 338.8L239.2 339.1z" fill="#8eff09"/>
<path d="M272.8 359.4L279.4 358.8L272.7 352.0L266.1 352.6z" fill="#2eff22"/>
<path d="M286.1 365.4L292.7 364.7L286.0 358.1L279.4 358.8z" fill="#22ff58"/>
<path d="M312.4 376.2L319.0 375.2L312.4 369.1L305.8 370.1z" fill="#38ffcb"/>
<path d="M338.5 385.5L345.0 384.3L338.5 378.7L332.0 379.9z" fill="#3de4ff"/>
<path d="M351.5 389.6L358.0 388.3L351.5 383.0L345.0 384.3z" fill="#2faeff"/>
<path d="M364.5 393.4L370.9 391.9L364.5 386.8L358.0 388.3z" fill="#2581ff"/>
<path d="M390.2 399.8L396.7 398.2L390.3 393.6L383.8 395.2z" fill="#1b46ff"/>
<path d="M415.9 404.9L422.3 403.1L415.9 399.0L409.5 400.8z" fill="#182dff"/>
<path d="M428.7 407.0L435.1 405.2L428.7 401.2L422.3 403.1z" fill="#1726fd"/>
<path d="M454.2 410.4L460.6 408.3L454.3 404.8L447.9 406.9z" fill="#151ff5"/>
<path d="M259.5 353.1L266.1 352.6L259.3 345.6L252.7 346.0z" fill="#58ff0b"/>
<path d="M299.3 371.0L305.8 370.1L299.2 363.8L292.7 364.7z" fill="#3cffa2"/>
<path d="M325.5 381.0L332.0 379.9L325.5 374.1L319.0 375.2z" fill="#3bfff2"/>
<path d="M377.4 396.8L383.8 395.2L377.4 390.4L370.9 391.9z" fill="#1e5eff"/>
<path d="M403.1 402.5L409.5 400.8L403.1 396.4L396.7 398.2z" fill="#1936ff"/>
<path d="M441.5 408.8L447.9 406.9L441.5 403.2L435.1 405.2z" fill="#1622f9"/>
<path d="M266.2 359.9L272.8 359.4L266.1 352.6L259.5 353.1z" fill="#34ff1a"/>
<path d="M305.9 377.0L312.4 376.2L305.8 370.1L299.3 371.0z" fill="#38ffc3"/>
<path d="M332.0 386.6L338.5 385.5L332.0 379.9L325.5 381.0z" fill="#3fedff"/>
<path d="M370.9 398.2L377.4 396.8L370.9 391.9L364.5 393.4z" fill="#1f64ff"/>
<path d="M396.6 404.2L403.1 402.5L396.7 398.2L390.2 399.8z" fill="#1a39ff"/>
<path d="M435.1 410.7L441.5 408.8L435.1 405.2L428.7 407.0z" fill="#1622f8"/>
<path d="M239.4 346.6L246.1 346.4L239.2 339.1L232.6 339.4z" fill="#97ff09"/>
<path d="M252.9 353.4L259.5 353.1L252.7 346.0L246.1 346.4z" fill="#62ff0b"/>
<path d="M279.5 366.0L286.1 365.4L279.4 358.8L272.8 359.4z" fill="#1dff48"/>
<path d="M292.7 371.7L299.3 371.0L292.7 364.7L286.1 365.4z" fill="#38ff94"/>
<path d="M319.0 382.0L325.5 381.0L319.0 375.2L312.4 376.2z" fill="#38ffea"/>
<path d="M345.0 390.8L351.5 389.6L345.0 384.3L338.5 385.5z" fill="#31b6ff"/>
<path d="M358.0 394.7L364.5 393.4L358.0 388.3L351.5 389.6z" fill="#2788ff"/>
<path d="M383.8 401.3L390.2 399.8L383.8 395.2L377.4 396.8z" fill="#1b49ff"/>
<path d="M409.5 406.6L415.9 404.9L409.5 400.8L403.1 402.5z" fill="#182fff"/>
<path d="M422.3 408.8L428.7 407.0L422.3 403.1L415.9 404.9z" fill="#1727fc"/>
<path d="M447.8 412.3L454.2 410.4L447.9 406.9L441.5 408.8z" fill="#151ff5"/>
<path d="M460.6 413.6L467.0 411.6L460.6 408.3L454.2 410.4z" fill="#141cf1"/>
<path d="M259.6 360.2L266.2 359.9L259.5 353.1L252.9 353.4z" fill="#3aff10"/>
<path d="M299.4 377.7L305.9 377.0L299.3 371.0L292.7 371.7z" fill="#39ffb9"/>
<path d="M325.5 387.5L332.0 386.6L325.5 381.0L319.0 382.0z" fill="#41f6ff"/>
<path d="M377.3 402.7L383.8 401.3L377.4 396.8L370.9 398.2z" fill="#1b4cff"/>
<path d="M403.0 408.2L409.5 406.6L403.1 402.5L396.6 404.2z" fill="#1830ff"/>
<path d="M441.4 414.1L447.8 412.3L441.5 408.8L435.1 410.7z" fill="#1520f4"/>
<path d="M232.8 346.7L239.4 346.6L232.6 339.4L225.9 339.5z" fill="#a1ff09"/>
<path d="M272.9 366.4L279.5 366.0L272.8 359.4L266.2 359.9z" fill="#1dff3b"/>
<path d="M312.5 382.8L319.0 382.0L312.4 376.2L305.9 377.0z" fill="#36ffe0"/>
<path d="M338.5 391.9L345.0 390.8L338.5 385.5L332.0 386.6z" fill="#33c0ff"/>
<path d="M364.4 399.5L370.9 398.2L364.5 393.4L358.0 394.7z" fill="#216aff"/>
<path d="M390.2 405.6L396.6 404.2L390.2 399.8L383.8 401.3z" fill="#1a3cff"/>
<path d="M428.7 412.4L435.1 410.7L428.7 407.0L422.3 408.8z" fill="#1623f8"/>
<path d="M467.0 416.5L473.4 414.6L467.0 411.6L460.6 413.6z" fill="#131aed"/>
<path d="M246.2 353.7L252.9 353.4L246.1 346.4L239.4 346.6z" fill="#6dff0a"/>
<path d="M286.2 372.3L292.7 371.7L286.1 365.4L279.5 366.0z" fill="#32ff84"/>
<path d="M351.5 395.8L358.0 394.7L351.5 389.6L345.0 390.8z" fill="#2891ff"/>
<path d="M415.9 410.5L422.3 408.8L415.9 404.9L409.5 406.6z" fill="#1728fb"/>
<path d="M454.2 415.4L460.6 413.6L454.2 410.4L447.8 412.3z" fill="#141df0"/>
<path d="M319.0 388.3L325.5 387.5L319.0 382.0L312.5 382.8z" fill="#3ef7fc"/>
<path d="M383.8 407.0L390.2 405.6L383.8 401.3L377.3 402.7z" fill="#1a3fff"/>
<path d="M226.1 346.7L232.8 346.7L225.9 339.5L219.2 339.4z" fill="#abfe09"/>
<path d="M253.0 360.4L259.6 360.2L252.9 353.4L246.2 353.7z" fill="#44ff0c"/>
<path d="M266.3 366.8L272.9 366.4L266.2 359.9L259.6 360.2z" fill="#23ff31"/>
<path d="M292.8 378.3L299.4 377.7L292.7 371.7L286.2 372.3z" fill="#3affaf"/>
<path d="M305.9 383.5L312.5 382.8L305.9 377.0L299.4 377.7z" fill="#36ffd6"/>
<path d="M332.1 392.8L338.5 391.9L332.0 386.6L325.5 387.5z" fill="#37ccff"/>
<path d="M370.9 404.0L377.3 402.7L370.9 398.2L364.4 399.5z" fill="#1c51ff"/>
<path d="M396.6 409.7L403.0 408.2L396.6 404.2L390.2 405.6z" fill="#1932fe"/>
<path d="M409.4 412.0L415.9 410.5L409.5 406.6L403.0 408.2z" fill="#172afb"/>
<path d="M435.0 415.8L441.4 414.1L435.1 410.7L428.7 412.4z" fill="#1520f3"/>
<path d="M447.8 417.2L454.2 415.4L447.8 412.3L441.4 414.1z" fill="#141df0"/>
<path d="M473.3 419.2L479.7 417.4L473.4 414.6L467.0 416.5z" fill="#1218e9"/>
<path d="M239.6 353.7L246.2 353.7L239.4 346.6L232.8 346.7z" fill="#79fe09"/>
<path d="M279.6 372.7L286.2 372.3L279.5 366.0L272.9 366.4z" fill="#2bff72"/>
<path d="M345.0 396.9L351.5 395.8L345.0 390.8L338.5 391.9z" fill="#2b9bff"/>
<path d="M358.0 400.6L364.4 399.5L358.0 394.7L351.5 395.8z" fill="#2272ff"/>
<path d="M422.2 414.0L428.7 412.4L422.3 408.8L415.9 410.5z" fill="#1624f7"/>
<path d="M460.6 418.3L467.0 416.5L460.6 413.6L454.2 415.4z" fill="#131bec"/>
<path d="M312.5 389.0L319.0 388.3L312.5 382.8L305.9 383.5z" fill="#3bf9f1"/>
<path d="M390.2 411.0L396.6 409.7L390.2 405.6L383.8 407.0z" fill="#1934fd"/>
<path d="M246.4 360.5L253.0 360.4L246.2 353.7L239.6 353.7z" fill="#50fe0b"/>
<path d="M286.2 378.8L292.8 378.3L286.2 372.3L279.6 372.7z" fill="#3affa4"/>
<path d="M325.6 393.6L332.1 392.8L325.5 387.5L319.0 388.3z" fill="#3ad9ff"/>
<path d="M377.3 408.2L383.8 407.0L377.3 402.7L370.9 404.0z" fill="#1a43fe"/>
<path d="M415.8 415.5L422.2 414.0L415.9 410.5L409.4 412.0z" fill="#1625f7"/>
<path d="M454.2 420.0L460.6 418.3L454.2 415.4L447.8 417.2z" fill="#131bec"/>
<path d="M232.9 353.7L239.6 353.7L232.8 346.7L226.1 346.7z" fill="#85fd08"/>
<path d="M259.7 367.0L266.3 366.8L259.6 360.2L253.0 360.4z" fill="#2afe27"/>
<path d="M273.0 373.0L279.6 372.7L272.9 366.4L266.3 366.8z" fill="#24fe5f"/>
<path d="M299.4 384.1L305.9 383.5L299.4 377.7L292.8 378.3z" fill="#36ffcc"/>
<path d="M338.6 397.8L345.0 396.9L338.5 391.9L332.1 392.8z" fill="#2da6ff"/>
<path d="M351.5 401.7L358.0 400.6L351.5 395.8L345.0 396.9z" fill="#237aff"/>
<path d="M364.4 405.1L370.9 404.0L364.4 399.5L358.0 400.6z" fill="#1d5aff"/>
<path d="M403.0 413.4L409.4 412.0L403.0 408.2L396.6 409.7z" fill="#182cfa"/>
<path d="M428.6 417.3L435.0 415.8L428.7 412.4L422.2 414.0z" fill="#1521f3"/>
<path d="M441.4 418.8L447.8 417.2L441.4 414.1L435.0 415.8z" fill="#141eef"/>
<path d="M467.0 421.0L473.3 419.2L467.0 416.5L460.6 418.3z" fill="#1219e8"/>
<path d="M239.7 360.4L246.4 360.5L239.6 353.7L232.9 353.7z" fill="#5efc0b"/>
<path d="M279.7 379.1L286.2 378.8L279.6 372.7L273.0 373.0z" fill="#37fe94"/>
<path d="M306.0 389.6L312.5 389.0L305.9 383.5L299.4 384.1z" fill="#37fae6"/>
<path d="M319.0 394.3L325.6 393.6L319.0 388.3L312.5 389.0z" fill="#3ee8ff"/>
<path d="M383.8 412.2L390.2 411.0L383.8 407.0L377.3 408.2z" fill="#1939fc"/>
<path d="M396.6 414.7L403.0 413.4L396.6 409.7L390.2 411.0z" fill="#182ef9"/>
<path d="M422.2 418.8L428.6 417.3L422.2 414.0L415.8 415.5z" fill="#1622f3"/>
<path d="M460.6 422.6L467.0 421.0L460.6 418.3L454.2 420.0z" fill="#131ae8"/>
<path d="M253.1 367.0L259.7 367.0L253.0 360.4L246.4 360.5z" fill="#31fd1b"/>
<path d="M292.9 384.5L299.4 384.1L292.8 378.3L286.2 378.8z" fill="#37fdc0"/>
<path d="M332.1 398.6L338.6 397.8L332.1 392.8L325.6 393.6z" fill="#30b2ff"/>
<path d="M345.0 402.6L351.5 401.7L345.0 396.9L338.6 397.8z" fill="#2686ff"/>
<path d="M358.0 406.1L364.4 405.1L358.0 400.6L351.5 401.7z" fill="#1f63fe"/>
<path d="M370.9 409.4L377.3 408.2L370.9 404.0L364.4 405.1z" fill="#1a48fd"/>
<path d="M409.4 416.9L415.8 415.5L409.4 412.0L403.0 413.4z" fill="#1727f6"/>
<path d="M447.8 421.6L454.2 420.0L447.8 417.2L441.4 418.8z" fill="#131ceb"/>
<path d="M266.4 373.2L273.0 373.0L266.3 366.8L259.7 367.0z" fill="#1dfd4a"/>
<path d="M435.0 420.4L441.4 418.8L435.0 415.8L428.6 417.3z" fill="#141fef"/>
<path d="M299.4 390.0L306.0 389.6L299.4 384.1L292.9 384.5z" fill="#34fcd9"/>
<path d="M403.0 418.2L409.4 416.9L403.0 413.4L396.6 414.7z" fill="#172af5"/>
<path d="M246.5 366.9L253.1 367.0L246.4 360.5L239.7 360.4z" fill="#39fc0f"/>
<path d="M273.1 379.2L279.7 379.1L273.0 373.0L266.4 373.2z" fill="#30fc7e"/>
<path d="M286.3 384.8L292.9 384.5L286.2 378.8L279.7 379.1z" fill="#38fcb3"/>
<path d="M312.5 394.8L319.0 394.3L312.5 389.0L306.0 389.6z" fill="#3ff2fd"/>
<path d="M325.6 399.3L332.1 398.6L325.6 393.6L319.0 394.3z" fill="#34c1ff"/>
<path d="M338.6 403.3L345.0 402.6L338.6 397.8L332.1 398.6z" fill="#2993fd"/>
<path d="M351.5 407.0L358.0 406.1L351.5 401.7L345.0 402.6z" fill="#216dfc"/>
<path d="M364.4 410.3L370.9 409.4L364.4 405.1L358.0 406.1z" fill="#1b4efb"/>
<path d="M377.3 413.3L383.8 412.2L377.3 408.2L370.9 409.4z" fill="#193efa"/>
<path d="M390.2 415.9L396.6 414.7L390.2 411.0L383.8 412.2z" fill="#1831f9"/>
<path d="M415.8 420.1L422.2 418.8L415.8 415.5L409.4 416.9z" fill="#1624f2"/>
<path d="M428.6 421.8L435.0 420.4L428.6 417.3L422.2 418.8z" fill="#1520ee"/>
<path d="M454.2 424.1L460.6 422.6L454.2 420.0L447.8 421.6z" fill="#131be8"/>
<path d="M259.8 373.3L266.4 373.2L259.7 367.0L253.1 367.0z" fill="#1dfb39"/>
<path d="M441.4 423.1L447.8 421.6L441.4 418.8L435.0 420.4z" fill="#141eeb"/>
<path d="M292.9 390.3L299.4 390.0L292.9 384.5L286.3 384.8z" fill="#35facc"/>
<path d="M409.4 421.3L415.8 420.1L409.4 416.9L403.0 418.2z" fill="#1626f2"/>
<path d="M266.5 379.2L273.1 379.2L266.4 373.2L259.8 373.3z" fill="#27fa67"/>
<path d="M306.0 395.2L312.5 394.8L306.0 389.6L299.4 390.0z" fill="#3bf3f0"/>
<path d="M332.1 404.0L338.6 403.3L332.1 398.6L325.6 399.3z" fill="#2ca1fc"/>
<path d="M345.0 407.8L351.5 407.0L345.0 402.6L338.6 403.3z" fill="#2378fb"/>
<path d="M358.0 411.2L364.4 410.3L358.0 406.1L351.5 407.0z" fill="#1d58fa"/>
<path d="M370.9 414.3L377.3 413.3L370.9 409.4L364.4 410.3z" fill="#1a43f9"/>
<path d="M396.6 419.3L403.0 418.2L396.6 414.7L390.2 415.9z" fill="#172cf5"/>
<path d="M435.0 424.4L441.4 423.1L435.0 420.4L428.6 421.8z" fill="#141feb"/>
<path d="M253.2 373.2L259.8 373.3L253.1 367.0L246.5 366.9z" fill="#25fa2c"/>
<path d="M279.7 385.0L286.3 384.8L279.7 379.1L273.1 379.2z" fill="#39fba6"/>
<path d="M319.1 399.8L325.6 399.3L319.0 394.3L312.5 394.8z" fill="#38d2fe"/>
<path d="M383.8 417.0L390.2 415.9L383.8 412.2L377.3 413.3z" fill="#1835f8"/>
<path d="M422.2 423.1L428.6 421.8L422.2 418.8L415.8 420.1z" fill="#1522ee"/>
<path d="M447.8 425.5L454.2 424.1L447.8 421.6L441.4 423.1z" fill="#131ce7"/>
<path d="M259.9 379.1L266.5 379.2L259.8 373.3L253.2 373.2z" fill="#1ff94f"/>
<path d="M286.3 390.4L292.9 390.3L286.3 384.8L279.7 385.0z" fill="#36f9be"/>
<path d="M299.5 395.5L306.0 395.2L299.4 390.0L292.9 390.3z" fill="#37f5e2"/>
<path d="M338.6 408.4L345.0 407.8L338.6 403.3L332.1 404.0z" fill="#2686fa"/>
<path d="M351.5 411.9L358.0 411.2L351.5 407.0L345.0 407.8z" fill="#1f64f9"/>
<path d="M364.4 415.1L370.9 414.3L364.4 410.3L358.0 411.2z" fill="#1a49f7"/>
<path d="M403.0 422.4L409.4 421.3L403.0 418.2L396.6 419.3z" fill="#1729f1"/>
<path d="M415.8 424.2L422.2 423.1L415.8 420.1L409.4 421.3z" fill="#1623ee"/>
<path d="M441.5 426.8L447.8 425.5L441.4 423.1L435.0 424.4z" fill="#141ee7"/>
<path d="M273.1 385.0L279.7 385.0L273.1 379.2L266.5 379.2z" fill="#38fa96"/>
<path d="M312.5 400.1L319.1 399.8L312.5 394.8L306.0 395.2z" fill="#3de3fd"/>
<path d="M325.6 404.4L332.1 404.0L325.6 399.3L319.1 399.8z" fill="#2fb0fb"/>
<path d="M377.3 417.9L383.8 417.0L377.3 413.3L370.9 414.3z" fill="#193af6"/>
<path d="M390.2 420.3L396.6 419.3L390.2 415.9L383.8 417.0z" fill="#182ff4"/>
<path d="M428.7 425.7L435.0 424.4L428.6 421.8L422.2 423.1z" fill="#1520ea"/>
<path d="M279.8 390.4L286.3 390.4L279.7 385.0L273.1 385.0z" fill="#37f8b0"/>
<path d="M345.0 412.5L351.5 411.9L345.0 407.8L338.6 408.4z" fill="#2170f7"/>
<path d="M358.0 415.8L364.4 415.1L358.0 411.2L351.5 411.9z" fill="#1c53f6"/>
<path d="M422.3 426.8L428.7 425.7L422.2 423.1L415.8 424.2z" fill="#1522ea"/>
<path d="M266.5 384.8L273.1 385.0L266.5 379.2L259.9 379.1z" fill="#2ff87d"/>
<path d="M292.9 395.6L299.5 395.5L292.9 390.3L286.3 390.4z" fill="#33f7d4"/>
<path d="M306.0 400.4L312.5 400.1L306.0 395.2L299.5 395.5z" fill="#3deef6"/>
<path d="M319.1 404.8L325.6 404.4L319.1 399.8L312.5 400.1z" fill="#34c2fa"/>
<path d="M332.1 408.8L338.6 408.4L332.1 404.0L325.6 404.4z" fill="#2996f8"/>
<path d="M370.9 418.7L377.3 417.9L370.9 414.3L364.4 415.1z" fill="#1941f5"/>
<path d="M383.8 421.2L390.2 420.3L383.8 417.0L377.3 417.9z" fill="#1834f4"/>
<path d="M396.6 423.4L403.0 422.4L396.6 419.3L390.2 420.3z" fill="#172cf1"/>
<path d="M409.4 425.3L415.8 424.2L409.4 421.3L403.0 422.4z" fill="#1626ee"/>
<path d="M435.1 428.0L441.5 426.8L435.0 424.4L428.7 425.7z" fill="#141fe7"/>
<path d="M273.2 390.2L279.8 390.4L273.1 385.0L266.5 384.8z" fill="#38f6a0"/>
<path d="M351.5 416.3L358.0 415.8L351.5 411.9L345.0 412.5z" fill="#1e60f5"/>
<path d="M428.7 429.1L435.1 428.0L428.7 425.7L422.3 426.8z" fill="#1521e7"/>
<path d="M286.4 395.5L292.9 395.6L286.3 390.4L279.8 390.4z" fill="#34f6c5"/>
<path d="M312.6 405.0L319.1 404.8L312.5 400.1L306.0 400.4z" fill="#39d6f9"/>
<path d="M325.6 409.2L332.1 408.8L325.6 404.4L319.1 404.8z" fill="#2da6f7"/>
<path d="M338.6 412.9L345.0 412.5L338.6 408.4L332.1 408.8z" fill="#247ff6"/>
<path d="M364.4 419.3L370.9 418.7L364.4 415.1L358.0 415.8z" fill="#1a47f3"/>
<path d="M377.3 422.0L383.8 421.2L377.3 417.9L370.9 418.7z" fill="#183af2"/>
<path d="M390.2 424.3L396.6 423.4L390.2 420.3L383.8 421.2z" fill="#172ff0"/>
<path d="M415.9 427.8L422.3 426.8L415.8 424.2L409.4 425.3z" fill="#1524ea"/>
<path d="M299.5 400.5L306.0 400.4L299.5 395.5L292.9 395.6z" fill="#38f0e7"/>
<path d="M403.0 426.2L409.4 425.3L403.0 422.4L396.6 423.4z" fill="#1629ed"/>
<path d="M279.8 395.4L286.4 395.5L279.8 390.4L273.2 390.2z" fill="#36f4b5"/>
<path d="M319.1 409.3L325.6 409.2L319.1 404.8L312.6 405.0z" fill="#32baf6"/>
<path d="M332.1 413.2L338.6 412.9L332.1 408.8L325.6 409.2z" fill="#2890f4"/>
<path d="M345.0 416.7L351.5 416.3L345.0 412.5L338.6 412.9z" fill="#206df3"/>
<path d="M358.0 419.8L364.4 419.3L358.0 415.8L351.5 416.3z" fill="#1b52f2"/>
<path d="M370.9 422.6L377.3 422.0L370.9 418.7L364.4 419.3z" fill="#1941f1"/>
<path d="M383.8 425.0L390.2 424.3L383.8 421.2L377.3 422.0z" fill="#1835ef"/>
<path d="M422.3 430.0L428.7 429.1L422.3 426.8L415.9 427.8z" fill="#1523e7"/>
<path d="M292.9 400.4L299.5 400.5L292.9 395.6L286.4 395.5z" fill="#34f2d7"/>
<path d="M306.0 405.1L312.6 405.0L306.0 400.4L299.5 400.5z" fill="#3ee9f7"/>
<path d="M396.6 427.0L403.0 426.2L396.6 423.4L390.2 424.3z" fill="#172ded"/>
<path d="M409.5 428.7L415.9 427.8L409.4 425.3L403.0 426.2z" fill="#1627ea"/>
<path d="M325.6 413.4L332.1 413.2L325.6 409.2L319.1 409.3z" fill="#2ca2f3"/>
<path d="M338.6 417.0L345.0 416.7L338.6 412.9L332.1 413.2z" fill="#237df2"/>
<path d="M364.4 423.1L370.9 422.6L364.4 419.3L358.0 419.8z" fill="#1948ef"/>
<path d="M377.3 425.5L383.8 425.0L377.3 422.0L370.9 422.6z" fill="#183cee"/>
<path d="M286.4 400.2L292.9 400.4L286.4 395.5L279.8 395.4z" fill="#33f2c7"/>
<path d="M299.5 405.0L306.0 405.1L299.5 400.5L292.9 400.4z" fill="#39ebe7"/>
<path d="M312.6 409.4L319.1 409.3L312.6 405.0L306.0 405.1z" fill="#37cff5"/>
<path d="M351.5 420.2L358.0 419.8L351.5 416.3L345.0 416.7z" fill="#1e60f0"/>
<path d="M390.2 427.7L396.6 427.0L390.2 424.3L383.8 425.0z" fill="#1731ec"/>
<path d="M403.1 429.4L409.5 428.7L403.0 426.2L396.6 427.0z" fill="#162bea"/>
<path d="M415.9 430.8L422.3 430.0L415.9 427.8L409.5 428.7z" fill="#1526e7"/>
<path d="M332.1 417.1L338.6 417.0L332.1 413.2L325.6 413.4z" fill="#2890f0"/>
<path d="M370.9 426.0L377.3 425.5L370.9 422.6L364.4 423.1z" fill="#1943ec"/>
<path d="M292.9 404.8L299.5 405.0L292.9 400.4L286.4 400.2z" fill="#34eed7"/>
<path d="M306.0 409.3L312.6 409.4L306.0 405.1L299.5 405.0z" fill="#3de5f4"/>
<path d="M319.1 413.4L325.6 413.4L319.1 409.3L312.6 409.4z" fill="#31b7f2"/>
<path d="M345.0 420.5L351.5 420.2L345.0 416.7L338.6 417.0z" fill="#206fef"/>
<path d="M358.0 423.4L364.4 423.1L358.0 419.8L351.5 420.2z" fill="#1c56ee"/>
<path d="M383.8 428.2L390.2 427.7L383.8 425.0L377.3 425.5z" fill="#1838eb"/>
<path d="M396.6 430.0L403.1 429.4L396.6 427.0L390.2 427.7z" fill="#172fe9"/>
<path d="M409.5 431.5L415.9 430.8L409.5 428.7L403.1 429.4z" fill="#162ae6"/>
<path d="M299.5 409.0L306.0 409.3L299.5 405.0L292.9 404.8z" fill="#38e7e3"/>
<path d="M312.5 413.3L319.1 413.4L312.6 409.4L306.0 409.3z" fill="#37cdf1"/>
<path d="M325.6 417.1L332.1 417.1L325.6 413.4L319.1 413.4z" fill="#2ca4ef"/>
<path d="M338.6 420.6L345.0 420.5L338.6 417.0L332.1 417.1z" fill="#2481ed"/>
<path d="M351.5 423.6L358.0 423.4L351.5 420.2L345.0 420.5z" fill="#1e65ec"/>
<path d="M364.4 426.3L370.9 426.0L364.4 423.1L358.0 423.4z" fill="#1a4eeb"/>
<path d="M377.3 428.6L383.8 428.2L377.3 425.5L370.9 426.0z" fill="#1840e9"/>
<path d="M390.2 430.5L396.6 430.0L390.2 427.7L383.8 428.2z" fill="#1736e8"/>
<path d="M403.1 432.1L409.5 431.5L403.1 429.4L396.6 430.0z" fill="#162ee6"/>
<path d="M306.0 413.0L312.5 413.3L306.0 409.3L299.5 409.0z" fill="#3be2ee"/>
<path d="M319.1 417.0L325.6 417.1L319.1 413.4L312.5 413.3z" fill="#32baee"/>
<path d="M345.0 423.7L351.5 423.6L345.0 420.5L338.6 420.6z" fill="#2175eb"/>
<path d="M358.0 426.5L364.4 426.3L358.0 423.4L351.5 423.6z" fill="#1d5de9"/>
<path d="M383.8 430.9L390.2 430.5L383.8 428.2L377.3 428.6z" fill="#183ee6"/>
<path d="M396.7 432.5L403.1 432.1L396.6 430.0L390.2 430.5z" fill="#1735e5"/>
<path d="M332.1 420.5L338.6 420.6L332.1 417.1L325.6 417.1z" fill="#2995ec"/>
<path d="M370.9 428.9L377.3 428.6L370.9 426.0L364.4 426.3z" fill="#1949e8"/>
<path d="M312.5 416.7L319.1 417.0L312.5 413.3L306.0 413.0z" fill="#38d2ed"/>
<path d="M325.6 420.3L332.1 420.5L325.6 417.1L319.1 417.0z" fill="#2eaaeb"/>
<path d="M338.6 423.6L345.0 423.7L338.6 420.6L332.1 420.5z" fill="#268ae9"/>
<path d="M351.5 426.5L358.0 426.5L351.5 423.6L345.0 423.7z" fill="#206de8"/>
<path d="M364.5 429.0L370.9 428.9L364.4 426.3L358.0 426.5z" fill="#1c59e6"/>
<path d="M377.4 431.1L383.8 430.9L377.3 428.6L370.9 428.9z" fill="#1947e5"/>
<path d="M390.3 432.9L396.7 432.5L390.2 430.5L383.8 430.9z" fill="#173de3"/>
<path d="M319.0 420.0L325.6 420.3L319.1 417.0L312.5 416.7z" fill="#34c3ea"/>
<path d="M332.1 423.4L338.6 423.6L332.1 420.5L325.6 420.3z" fill="#2b9fe8"/>
<path d="M345.0 426.4L351.5 426.5L345.0 423.7L338.6 423.6z" fill="#2482e6"/>
<path d="M358.0 429.0L364.5 429.0L358.0 426.5L351.5 426.5z" fill="#1f69e5"/>
<path d="M370.9 431.2L377.4 431.1L370.9 428.9L364.5 429.0z" fill="#1b57e3"/>
<path d="M383.8 433.0L390.3 432.9L383.8 430.9L377.4 431.1z" fill="#1847e1"/>
<path d="M325.5 423.0L332.1 423.4L325.6 420.3L319.0 420.0z" fill="#31b7e7"/>
<path d="M338.5 426.1L345.0 426.4L338.6 423.6L332.1 423.4z" fill="#2997e5"/>
<path d="M351.5 428.8L358.0 429.0L351.5 426.5L345.0 426.4z" fill="#237de3"/>
<path d="M364.5 431.2L370.9 431.2L364.5 429.0L358.0 429.0z" fill="#1e67e2"/>
<path d="M377.4 433.1L383.8 433.0L377.4 431.1L370.9 431.2z" fill="#1b57e0"/>
<path d="M332.0 425.7L338.5 426.1L332.1 423.4L325.5 423.0z" fill="#2faee4"/>
<path d="M370.9 433.0L377.4 433.1L370.9 431.2L364.5 431.2z" fill="#1e67de"/>
<path d="M345.0 428.6L351.5 428.8L345.0 426.4L338.5 426.1z" fill="#2892e2"/>
<path d="M358.0 431.0L364.5 431.2L358.0 429.0L351.5 428.8z" fill="#227be0"/>
<path d="M338.5 428.1L345.0 428.6L338.5 426.1L332.0 425.7z" fill="#2daae0"/>
<path d="M351.5 430.6L358.0 431.0L351.5 428.8L345.0 428.6z" fill="#2790de"/>
<path d="M364.5 432.8L370.9 433.0L364.5 431.2L358.0 431.0z" fill="#227cdd"/>
<path d="M345.0 430.2L351.5 430.6L345.0 428.6L338.5 428.1z" fill="#2da8dd"/>
<path d="M358.0 432.4L364.5 432.8L358.0 431.0L351.5 430.6z" fill="#2791db"/>
<path d="M351.5 431.9L358.0 432.4L351.5 430.6L345.0 430.2z" fill="#2da9da"/>
</g>
<rect x="349.3" y="387.8" width="4.4" height="6.8" rx="2.1" ry="2.4" fill="#c41616" stroke="#6e0a0a" stroke-width="0.6"/>
<circle cx="223.9" cy="428.6" r="1.1" fill="#111"/>
<circle cx="222.9" cy="408.9" r="1.1" fill="#111"/>
<circle cx="221.8" cy="389.0" r="1.1" fill="#111"/>
<circle cx="220.8" cy="369.0" r="1.1" fill="#111"/>
<circle cx="219.7" cy="348.8" r="1.1" fill="#111"/>
<circle cx="218.6" cy="328.4" r="1.1" fill="#111"/>
<circle cx="217.5" cy="307.9" r="1.1" fill="#111"/>
<circle cx="351.5" cy="523.0" r="1.1" fill="#111"/>
<circle cx="382.9" cy="509.0" r="1.1" fill="#111"/>
<circle cx="414.3" cy="495.0" r="1.1" fill="#111"/>
<circle cx="445.7" cy="481.0" r="1.1" fill="#111"/>
<circle cx="477.1" cy="467.0" r="1.1" fill="#111"/>
<circle cx="351.5" cy="523.0" r="1.1" fill="#111"/>
<circle cx="326.4" cy="511.8" r="1.1" fill="#111"/>
<circle cx="301.3" cy="500.6" r="1.1" fill="#111"/>
<circle cx="276.2" cy="489.4" r="1.1" fill="#111"/>
<circle cx="251.0" cy="478.2" r="1.1" fill="#111"/>
<circle cx="225.9" cy="467.0" r="1.1" fill="#111"/>
<text x="39.2" y="30.8" font-size="12.2" text-anchor="end">120</text>
<text x="40.4" y="55.8" font-size="12.2" text-anchor="end">100</text>
<text x="41.6" y="80.6" font-size="12.2" text-anchor="end">80</text>
<text x="42.8" y="105.2" font-size="12.2" text-anchor="end">60</text>
<text x="43.9" y="129.4" font-size="12.2" text-anchor="end">40</text>
<text x="45.1" y="153.5" font-size="12.2" text-anchor="end">20</text>
<text x="176.5" y="263.0" font-size="12.2" text-anchor="start">60</text>
<text x="199.6" y="251.8" font-size="12.2" text-anchor="start">66</text>
<text x="222.8" y="240.6" font-size="12.2" text-anchor="start">72</text>
<text x="246.0" y="229.3" font-size="12.2" text-anchor="start">78</text>
<text x="269.2" y="218.1" font-size="12.2" text-anchor="start">84</text>
<text x="292.4" y="206.9" font-size="12.2" text-anchor="start">90</text>
<text x="163.4" y="262.8" font-size="12.2" text-anchor="end">8</text>
<text x="134.4" y="248.8" font-size="12.2" text-anchor="end">9</text>
<text x="105.4" y="234.8" font-size="12.2" text-anchor="end">10</text>
<text x="76.4" y="220.7" font-size="12.2" text-anchor="end">11</text>
<text x="47.4" y="206.7" font-size="12.2" text-anchor="end">12</text>
<text x="389.0" y="35.8" font-size="12.2" text-anchor="end">120</text>
<text x="390.2" y="60.4" font-size="12.2" text-anchor="end">100</text>
<text x="391.3" y="84.8" font-size="12.2" text-anchor="end">80</text>
<text x="392.4" y="108.9" font-size="12.2" text-anchor="end">60</text>
<text x="393.5" y="132.8" font-size="12.2" text-anchor="end">40</text>
<text x="394.6" y="156.4" font-size="12.2" text-anchor="end">20</text>
<text x="526.1" y="265.6" font-size="12.2" text-anchor="start">60</text>
<text x="549.3" y="254.5" font-size="12.2" text-anchor="start">66</text>
<text x="572.6" y="243.4" font-size="12.2" text-anchor="start">72</text>
<text x="595.8" y="232.3" font-size="12.2" text-anchor="start">78</text>
<text x="619.0" y="221.2" font-size="12.2" text-anchor="start">84</text>
<text x="642.2" y="210.1" font-size="12.2" text-anchor="start">90</text>
<text x="513.0" y="265.4" font-size="12.2" text-anchor="end">1.5</text>
<text x="489.8" y="254.3" font-size="12.2" text-anchor="end">2.2</text>
<text x="466.5" y="243.2" font-size="12.2" text-anchor="end">2.9</text>
<text x="443.3" y="232.1" font-size="12.2" text-anchor="end">3.6</text>
<text x="420.1" y="221.0" font-size="12.2" text-anchor="end">4.3</text>
<text x="396.9" y="209.9" font-size="12.2" text-anchor="end">5</text>
<text x="210.5" y="304.4" font-size="12.2" text-anchor="end" transform="translate(210.5 0) scale(1.070 1) translate(-210.5 0)">120</text>
<text x="211.6" y="324.9" font-size="12.2" text-anchor="end" transform="translate(211.6 0) scale(1.070 1) translate(-211.6 0)">100</text>
<text x="212.7" y="345.3" font-size="12.2" text-anchor="end" transform="translate(212.7 0) scale(1.070 1) translate(-212.7 0)">80</text>
<text x="213.8" y="365.5" font-size="12.2" text-anchor="end" transform="translate(213.8 0) scale(1.070 1) translate(-213.8 0)">60</text>
<text x="214.8" y="385.5" font-size="12.2" text-anchor="end" transform="translate(214.8 0) scale(1.070 1) translate(-214.8 0)">40</text>
<text x="215.9" y="405.4" font-size="12.2" text-anchor="end" transform="translate(215.9 0) scale(1.070 1) translate(-215.9 0)">20</text>
<text x="216.9" y="425.1" font-size="12.2" text-anchor="end" transform="translate(216.9 0) scale(1.070 1) translate(-216.9 0)">0</text>
<text x="358.1" y="534.5" font-size="12.2" text-anchor="start" transform="translate(358.1 0) scale(1.070 1) translate(-358.1 0)">8</text>
<text x="389.5" y="520.5" font-size="12.2" text-anchor="start" transform="translate(389.5 0) scale(1.070 1) translate(-389.5 0)">9</text>
<text x="420.9" y="506.5" font-size="12.2" text-anchor="start" transform="translate(420.9 0) scale(1.070 1) translate(-420.9 0)">10</text>
<text x="452.3" y="492.5" font-size="12.2" text-anchor="start" transform="translate(452.3 0) scale(1.070 1) translate(-452.3 0)">11</text>
<text x="483.7" y="478.5" font-size="12.2" text-anchor="start" transform="translate(483.7 0) scale(1.070 1) translate(-483.7 0)">12</text>
<text x="345.0" y="534.3" font-size="12.2" text-anchor="end" transform="translate(345.0 0) scale(1.070 1) translate(-345.0 0)">1.5</text>
<text x="319.9" y="523.1" font-size="12.2" text-anchor="end" transform="translate(319.9 0) scale(1.070 1) translate(-319.9 0)">2.2</text>
<text x="294.8" y="511.9" font-size="12.2" text-anchor="end" transform="translate(294.8 0) scale(1.070 1) translate(-294.8 0)">2.9</text>
<text x="269.7" y="500.7" font-size="12.2" text-anchor="end" transform="translate(269.7 0) scale(1.070 1) translate(-269.7 0)">3.6</text>
<text x="244.5" y="489.5" font-size="12.2" text-anchor="end" transform="translate(244.5 0) scale(1.070 1) translate(-244.5 0)">4.3</text>
<text x="219.4" y="478.3" font-size="12.2" text-anchor="end" transform="translate(219.4 0) scale(1.070 1) translate(-219.4 0)">5</text>
<text x="12.6" y="117.3" font-size="11.2" text-anchor="middle" transform="rotate(-90 12.6 117.3)" textLength="80.4" lengthAdjust="spacingAndGlyphs">Particle size (nm)</text>
<text x="363.1" y="122.0" font-size="11.2" text-anchor="middle" transform="rotate(-90 363.1 122.0)" textLength="84.0" lengthAdjust="spacingAndGlyphs">Particle size (nm)</text>
<text x="180.9" y="385.5" font-size="11.2" text-anchor="middle" transform="rotate(-90 180.9 385.5)" textLength="90.4" lengthAdjust="spacingAndGlyphs">Particle size (nm)</text>
<text x="59.0" y="250.3" font-size="11.2" text-anchor="start" textLength="16.0" lengthAdjust="spacingAndGlyphs">pH</text>
<text x="218.8" y="250.4" font-size="11.2" text-anchor="start" textLength="58.2" lengthAdjust="spacingAndGlyphs">Temperature</text>
<text x="284.0" y="252.8" font-size="15" text-anchor="start" textLength="24.0" lengthAdjust="spacingAndGlyphs">(°C)</text>
<text x="8.3" y="227.5" font-size="15.5" text-anchor="start" textLength="18.1" lengthAdjust="spacingAndGlyphs">(a)</text>
<text x="368.1" y="252.2" font-size="11.2" text-anchor="start" textLength="97.3" lengthAdjust="spacingAndGlyphs">Concentration (mM)</text>
<text x="568.3" y="252.4" font-size="11.2" text-anchor="start" textLength="57.8" lengthAdjust="spacingAndGlyphs">Temperature</text>
<text x="633.1" y="253.8" font-size="15" text-anchor="start" textLength="24.4" lengthAdjust="spacingAndGlyphs">(°C)</text>
<text x="356.8" y="227.5" font-size="15.5" text-anchor="start" textLength="18.9" lengthAdjust="spacingAndGlyphs">(b)</text>
<text x="187.6" y="521.3" font-size="11.2" text-anchor="start" textLength="104.3" lengthAdjust="spacingAndGlyphs">Concentration (mM)</text>
<text x="454.9" y="522.0" font-size="11.2" text-anchor="start" textLength="14.5" lengthAdjust="spacingAndGlyphs">pH</text>
<text x="176.3" y="497.5" font-size="15.5" text-anchor="start" textLength="18.1" lengthAdjust="spacingAndGlyphs">(c)</text>
</svg>
</body></html>
